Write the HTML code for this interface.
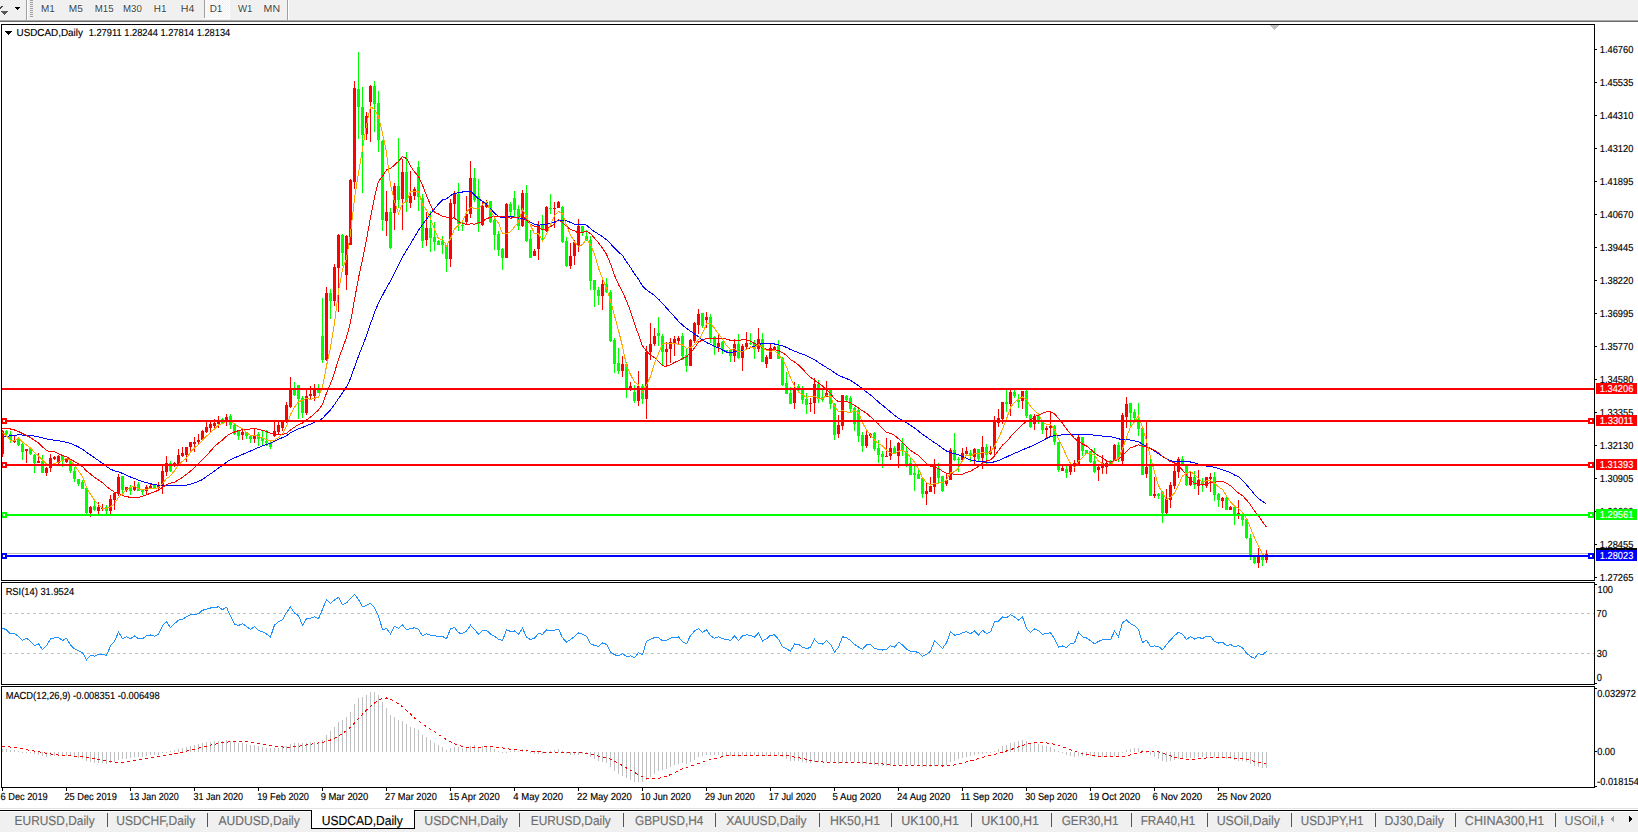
<!DOCTYPE html><html><head><meta charset="utf-8"><style>html,body{margin:0;padding:0;background:#fff;width:1638px;height:832px;overflow:hidden}svg{display:block}text{font-family:"Liberation Sans",sans-serif}</style></head><body><svg width="1638" height="832" viewBox="0 0 1638 832" font-family='"Liberation Sans", sans-serif' shape-rendering="crispEdges" text-rendering="geometricPrecision"><rect x="0" y="0" width="1638" height="20" fill="#f0f0f0"/><rect x="0" y="20" width="1638" height="1" fill="#a8a8a8"/><rect x="0" y="21" width="1638" height="1" fill="#6a6a6a"/><rect x="26" y="0" width="1" height="20" fill="#a0a0a0"/><rect x="27" y="0" width="1" height="20" fill="#ffffff"/><rect x="287" y="0" width="1" height="20" fill="#a0a0a0"/><rect x="288" y="0" width="1" height="20" fill="#ffffff"/><defs><pattern id="chk" x="0" y="0" width="2" height="2" patternUnits="userSpaceOnUse"><rect width="2" height="2" fill="#f0f0f0"/><rect width="1" height="1" fill="#fff"/><rect x="1" y="1" width="1" height="1" fill="#fff"/></pattern></defs><rect x="205" y="0" width="24" height="18" fill="url(#chk)"/><rect x="204" y="0" width="1" height="18" fill="#a0a0a0"/><rect x="204" y="18" width="26" height="1" fill="#ffffff"/><rect x="229" y="0" width="1" height="19" fill="#ffffff"/><rect x="30" y="0" width="3" height="1" fill="#a0a0a0"/><rect x="30" y="2" width="3" height="1" fill="#a0a0a0"/><rect x="30" y="4" width="3" height="1" fill="#a0a0a0"/><rect x="30" y="6" width="3" height="1" fill="#a0a0a0"/><rect x="30" y="8" width="3" height="1" fill="#a0a0a0"/><rect x="30" y="10" width="3" height="1" fill="#a0a0a0"/><rect x="30" y="12" width="3" height="1" fill="#a0a0a0"/><rect x="30" y="14" width="3" height="1" fill="#a0a0a0"/><rect x="30" y="16" width="3" height="1" fill="#a0a0a0"/><path d="M1 11 L8 11 L4.5 15 Z" fill="#555"/><path d="M0 8.5 L2.5 6" stroke="#444" stroke-width="1.5" fill="none"/><path d="M15 7 L20.5 7 L17.75 10 Z" fill="#000"/><text x="40.89" y="12" font-size="10.2" fill="#404040" textLength="13.8" lengthAdjust="spacingAndGlyphs" stroke="#ffffff" stroke-width="1.2" paint-order="stroke" stroke-opacity="0.8">M1</text><text x="68.77" y="12" font-size="10.2" fill="#404040" textLength="14.05" lengthAdjust="spacingAndGlyphs" stroke="#ffffff" stroke-width="1.2" paint-order="stroke" stroke-opacity="0.8">M5</text><text x="94.81" y="12" font-size="10.2" fill="#404040" textLength="18.8" lengthAdjust="spacingAndGlyphs" stroke="#ffffff" stroke-width="1.2" paint-order="stroke" stroke-opacity="0.8">M15</text><text x="123.01" y="12" font-size="10.2" fill="#404040" textLength="18.77" lengthAdjust="spacingAndGlyphs" stroke="#ffffff" stroke-width="1.2" paint-order="stroke" stroke-opacity="0.8">M30</text><text x="153.79" y="12" font-size="10.2" fill="#404040" textLength="12.7" lengthAdjust="spacingAndGlyphs" stroke="#ffffff" stroke-width="1.2" paint-order="stroke" stroke-opacity="0.8">H1</text><text x="180.73" y="12" font-size="10.2" fill="#404040" textLength="13.58" lengthAdjust="spacingAndGlyphs" stroke="#ffffff" stroke-width="1.2" paint-order="stroke" stroke-opacity="0.8">H4</text><text x="209.69" y="12" font-size="10.2" fill="#404040" textLength="12.7" lengthAdjust="spacingAndGlyphs" stroke="#ffffff" stroke-width="1.2" paint-order="stroke" stroke-opacity="0.8">D1</text><text x="237.96" y="12" font-size="10.2" fill="#404040" textLength="14.52" lengthAdjust="spacingAndGlyphs" stroke="#ffffff" stroke-width="1.2" paint-order="stroke" stroke-opacity="0.8">W1</text><text x="263.63" y="12" font-size="10.2" fill="#404040" textLength="16.43" lengthAdjust="spacingAndGlyphs" stroke="#ffffff" stroke-width="1.2" paint-order="stroke" stroke-opacity="0.8">MN</text><defs><clipPath id="cm"><rect x="2" y="25" width="1592" height="555"/></clipPath><clipPath id="cr"><rect x="2" y="583" width="1592" height="101"/></clipPath><clipPath id="cd"><rect x="2" y="687" width="1592" height="100"/></clipPath></defs><g clip-path="url(#cm)"><rect x="2" y="553" width="1592" height="1" fill="#c0c0c0"/><rect x="2" y="430" width="1" height="27" fill="#ff0000"/><rect x="1" y="431" width="3" height="23" fill="#ff0000"/><rect x="6" y="430" width="1" height="5" fill="#00ff00"/><rect x="5" y="431" width="3" height="3" fill="#00ff00"/><rect x="10" y="431" width="1" height="12" fill="#00ff00"/><rect x="9" y="434" width="3" height="6" fill="#00ff00"/><rect x="14" y="436" width="1" height="7" fill="#ff0000"/><rect x="13" y="440" width="3" height="2" fill="#ff0000"/><rect x="18" y="438" width="1" height="8" fill="#00ff00"/><rect x="17" y="439" width="3" height="6" fill="#00ff00"/><rect x="22" y="443" width="1" height="17" fill="#00ff00"/><rect x="21" y="444" width="3" height="8" fill="#00ff00"/><rect x="26" y="449" width="1" height="14" fill="#ff0000"/><rect x="25" y="449" width="3" height="2" fill="#ff0000"/><rect x="30" y="448" width="1" height="7" fill="#00ff00"/><rect x="29" y="448" width="3" height="6" fill="#00ff00"/><rect x="34" y="454" width="1" height="19" fill="#00ff00"/><rect x="33" y="455" width="3" height="8" fill="#00ff00"/><rect x="38" y="453" width="1" height="10" fill="#ff0000"/><rect x="37" y="461" width="3" height="2" fill="#ff0000"/><rect x="42" y="455" width="1" height="18" fill="#00ff00"/><rect x="41" y="461" width="3" height="12" fill="#00ff00"/><rect x="46" y="467" width="1" height="9" fill="#ff0000"/><rect x="45" y="468" width="3" height="5" fill="#ff0000"/><rect x="50" y="454" width="1" height="18" fill="#ff0000"/><rect x="49" y="458" width="3" height="10" fill="#ff0000"/><rect x="54" y="456" width="1" height="4" fill="#ff0000"/><rect x="53" y="457" width="3" height="2" fill="#ff0000"/><rect x="58" y="455" width="1" height="9" fill="#ff0000"/><rect x="57" y="456" width="3" height="7" fill="#ff0000"/><rect x="62" y="455" width="1" height="12" fill="#00ff00"/><rect x="61" y="456" width="3" height="5" fill="#00ff00"/><rect x="66" y="458" width="1" height="5" fill="#ff0000"/><rect x="65" y="458" width="3" height="4" fill="#ff0000"/><rect x="70" y="460" width="1" height="13" fill="#00ff00"/><rect x="69" y="460" width="3" height="11" fill="#00ff00"/><rect x="74" y="467" width="1" height="15" fill="#00ff00"/><rect x="73" y="471" width="3" height="8" fill="#00ff00"/><rect x="78" y="479" width="1" height="7" fill="#00ff00"/><rect x="77" y="479" width="3" height="5" fill="#00ff00"/><rect x="82" y="480" width="1" height="9" fill="#00ff00"/><rect x="81" y="482" width="3" height="7" fill="#00ff00"/><rect x="86" y="488" width="1" height="26" fill="#00ff00"/><rect x="85" y="488" width="3" height="25" fill="#00ff00"/><rect x="90" y="506" width="1" height="11" fill="#ff0000"/><rect x="89" y="507" width="3" height="6" fill="#ff0000"/><rect x="94" y="501" width="1" height="10" fill="#00ff00"/><rect x="93" y="506" width="3" height="4" fill="#00ff00"/><rect x="98" y="502" width="1" height="12" fill="#ff0000"/><rect x="97" y="507" width="3" height="4" fill="#ff0000"/><rect x="102" y="504" width="1" height="7" fill="#ff0000"/><rect x="101" y="508" width="3" height="1" fill="#ff0000"/><rect x="106" y="505" width="1" height="9" fill="#00ff00"/><rect x="105" y="507" width="3" height="4" fill="#00ff00"/><rect x="110" y="495" width="1" height="19" fill="#ff0000"/><rect x="109" y="499" width="3" height="12" fill="#ff0000"/><rect x="114" y="492" width="1" height="18" fill="#ff0000"/><rect x="113" y="493" width="3" height="7" fill="#ff0000"/><rect x="118" y="474" width="1" height="22" fill="#ff0000"/><rect x="117" y="477" width="3" height="17" fill="#ff0000"/><rect x="122" y="476" width="1" height="18" fill="#00ff00"/><rect x="121" y="476" width="3" height="14" fill="#00ff00"/><rect x="126" y="487" width="1" height="5" fill="#ff0000"/><rect x="125" y="487" width="3" height="3" fill="#ff0000"/><rect x="130" y="485" width="1" height="10" fill="#00ff00"/><rect x="129" y="487" width="3" height="4" fill="#00ff00"/><rect x="134" y="481" width="1" height="10" fill="#ff0000"/><rect x="133" y="486" width="3" height="4" fill="#ff0000"/><rect x="138" y="482" width="1" height="9" fill="#00ff00"/><rect x="137" y="484" width="3" height="7" fill="#00ff00"/><rect x="142" y="489" width="1" height="6" fill="#00ff00"/><rect x="141" y="490" width="3" height="2" fill="#00ff00"/><rect x="146" y="485" width="1" height="9" fill="#ff0000"/><rect x="145" y="487" width="3" height="4" fill="#ff0000"/><rect x="150" y="484" width="1" height="4" fill="#ff0000"/><rect x="149" y="486" width="3" height="2" fill="#ff0000"/><rect x="154" y="484" width="1" height="5" fill="#00ff00"/><rect x="153" y="485" width="3" height="3" fill="#00ff00"/><rect x="158" y="482" width="1" height="9" fill="#ff0000"/><rect x="157" y="485" width="3" height="3" fill="#ff0000"/><rect x="162" y="466" width="1" height="28" fill="#ff0000"/><rect x="161" y="471" width="3" height="15" fill="#ff0000"/><rect x="166" y="456" width="1" height="20" fill="#ff0000"/><rect x="165" y="463" width="3" height="9" fill="#ff0000"/><rect x="170" y="461" width="1" height="11" fill="#00ff00"/><rect x="169" y="463" width="3" height="8" fill="#00ff00"/><rect x="174" y="462" width="1" height="5" fill="#ff0000"/><rect x="173" y="463" width="3" height="3" fill="#ff0000"/><rect x="178" y="449" width="1" height="16" fill="#ff0000"/><rect x="177" y="455" width="3" height="9" fill="#ff0000"/><rect x="182" y="447" width="1" height="10" fill="#ff0000"/><rect x="181" y="453" width="3" height="3" fill="#ff0000"/><rect x="186" y="447" width="1" height="15" fill="#ff0000"/><rect x="185" y="447" width="3" height="8" fill="#ff0000"/><rect x="190" y="442" width="1" height="9" fill="#ff0000"/><rect x="189" y="442" width="3" height="5" fill="#ff0000"/><rect x="194" y="437" width="1" height="15" fill="#ff0000"/><rect x="193" y="442" width="3" height="2" fill="#ff0000"/><rect x="198" y="434" width="1" height="11" fill="#ff0000"/><rect x="197" y="440" width="3" height="2" fill="#ff0000"/><rect x="202" y="430" width="1" height="11" fill="#ff0000"/><rect x="201" y="431" width="3" height="9" fill="#ff0000"/><rect x="206" y="422" width="1" height="11" fill="#ff0000"/><rect x="205" y="427" width="3" height="5" fill="#ff0000"/><rect x="210" y="422" width="1" height="10" fill="#ff0000"/><rect x="209" y="424" width="3" height="4" fill="#ff0000"/><rect x="214" y="419" width="1" height="11" fill="#ff0000"/><rect x="213" y="423" width="3" height="3" fill="#ff0000"/><rect x="218" y="416" width="1" height="12" fill="#ff0000"/><rect x="217" y="420" width="3" height="4" fill="#ff0000"/><rect x="222" y="418" width="1" height="5" fill="#00ff00"/><rect x="221" y="419" width="3" height="4" fill="#00ff00"/><rect x="226" y="414" width="1" height="12" fill="#ff0000"/><rect x="225" y="417" width="3" height="5" fill="#ff0000"/><rect x="230" y="414" width="1" height="15" fill="#00ff00"/><rect x="229" y="416" width="3" height="9" fill="#00ff00"/><rect x="234" y="424" width="1" height="11" fill="#00ff00"/><rect x="233" y="425" width="3" height="9" fill="#00ff00"/><rect x="238" y="430" width="1" height="10" fill="#00ff00"/><rect x="237" y="431" width="3" height="5" fill="#00ff00"/><rect x="242" y="429" width="1" height="11" fill="#ff0000"/><rect x="241" y="432" width="3" height="3" fill="#ff0000"/><rect x="246" y="432" width="1" height="7" fill="#00ff00"/><rect x="245" y="432" width="3" height="4" fill="#00ff00"/><rect x="250" y="435" width="1" height="8" fill="#00ff00"/><rect x="249" y="436" width="3" height="3" fill="#00ff00"/><rect x="254" y="429" width="1" height="14" fill="#ff0000"/><rect x="253" y="435" width="3" height="4" fill="#ff0000"/><rect x="258" y="432" width="1" height="14" fill="#00ff00"/><rect x="257" y="434" width="3" height="5" fill="#00ff00"/><rect x="262" y="431" width="1" height="15" fill="#00ff00"/><rect x="261" y="438" width="3" height="3" fill="#00ff00"/><rect x="266" y="430" width="1" height="16" fill="#00ff00"/><rect x="265" y="441" width="3" height="2" fill="#00ff00"/><rect x="270" y="442" width="1" height="7" fill="#00ff00"/><rect x="269" y="443" width="3" height="4" fill="#00ff00"/><rect x="274" y="422" width="1" height="15" fill="#ff0000"/><rect x="273" y="431" width="3" height="5" fill="#ff0000"/><rect x="278" y="422" width="1" height="12" fill="#ff0000"/><rect x="277" y="425" width="3" height="7" fill="#ff0000"/><rect x="282" y="422" width="1" height="9" fill="#ff0000"/><rect x="281" y="422" width="3" height="6" fill="#ff0000"/><rect x="286" y="402" width="1" height="21" fill="#ff0000"/><rect x="285" y="405" width="3" height="17" fill="#ff0000"/><rect x="290" y="377" width="1" height="31" fill="#ff0000"/><rect x="289" y="388" width="3" height="19" fill="#ff0000"/><rect x="294" y="382" width="1" height="14" fill="#00ff00"/><rect x="293" y="390" width="3" height="5" fill="#00ff00"/><rect x="298" y="385" width="1" height="34" fill="#00ff00"/><rect x="297" y="385" width="3" height="14" fill="#00ff00"/><rect x="302" y="396" width="1" height="22" fill="#00ff00"/><rect x="301" y="398" width="3" height="15" fill="#00ff00"/><rect x="306" y="390" width="1" height="25" fill="#ff0000"/><rect x="305" y="396" width="3" height="17" fill="#ff0000"/><rect x="310" y="386" width="1" height="13" fill="#ff0000"/><rect x="309" y="394" width="3" height="2" fill="#ff0000"/><rect x="314" y="384" width="1" height="17" fill="#ff0000"/><rect x="313" y="390" width="3" height="6" fill="#ff0000"/><rect x="318" y="384" width="1" height="9" fill="#00ff00"/><rect x="317" y="390" width="3" height="3" fill="#00ff00"/><rect x="322" y="298" width="1" height="65" fill="#00ff00"/><rect x="321" y="336" width="3" height="24" fill="#00ff00"/><rect x="326" y="287" width="1" height="74" fill="#ff0000"/><rect x="325" y="293" width="3" height="67" fill="#ff0000"/><rect x="330" y="289" width="1" height="30" fill="#00ff00"/><rect x="329" y="293" width="3" height="8" fill="#00ff00"/><rect x="334" y="264" width="1" height="42" fill="#ff0000"/><rect x="333" y="267" width="3" height="34" fill="#ff0000"/><rect x="338" y="234" width="1" height="78" fill="#ff0000"/><rect x="337" y="235" width="3" height="33" fill="#ff0000"/><rect x="342" y="234" width="1" height="32" fill="#00ff00"/><rect x="341" y="235" width="3" height="18" fill="#00ff00"/><rect x="346" y="235" width="1" height="55" fill="#ff0000"/><rect x="345" y="236" width="3" height="39" fill="#ff0000"/><rect x="350" y="179" width="1" height="66" fill="#ff0000"/><rect x="349" y="180" width="3" height="65" fill="#ff0000"/><rect x="354" y="81" width="1" height="108" fill="#ff0000"/><rect x="353" y="88" width="3" height="94" fill="#ff0000"/><rect x="358" y="52" width="1" height="87" fill="#00ff00"/><rect x="357" y="89" width="3" height="18" fill="#00ff00"/><rect x="362" y="87" width="1" height="106" fill="#00ff00"/><rect x="361" y="107" width="3" height="28" fill="#00ff00"/><rect x="366" y="112" width="1" height="28" fill="#ff0000"/><rect x="365" y="116" width="3" height="18" fill="#ff0000"/><rect x="370" y="85" width="1" height="57" fill="#ff0000"/><rect x="369" y="86" width="3" height="16" fill="#ff0000"/><rect x="374" y="81" width="1" height="51" fill="#00ff00"/><rect x="373" y="86" width="3" height="18" fill="#00ff00"/><rect x="378" y="91" width="1" height="61" fill="#00ff00"/><rect x="377" y="103" width="3" height="37" fill="#00ff00"/><rect x="382" y="140" width="1" height="91" fill="#00ff00"/><rect x="381" y="141" width="3" height="79" fill="#00ff00"/><rect x="386" y="191" width="1" height="45" fill="#ff0000"/><rect x="385" y="212" width="3" height="9" fill="#ff0000"/><rect x="390" y="208" width="1" height="41" fill="#00ff00"/><rect x="389" y="212" width="3" height="36" fill="#00ff00"/><rect x="394" y="183" width="1" height="47" fill="#ff0000"/><rect x="393" y="186" width="3" height="27" fill="#ff0000"/><rect x="398" y="138" width="1" height="70" fill="#00ff00"/><rect x="397" y="186" width="3" height="14" fill="#00ff00"/><rect x="402" y="159" width="1" height="71" fill="#ff0000"/><rect x="401" y="172" width="3" height="27" fill="#ff0000"/><rect x="406" y="152" width="1" height="60" fill="#00ff00"/><rect x="405" y="172" width="3" height="30" fill="#00ff00"/><rect x="410" y="171" width="1" height="37" fill="#ff0000"/><rect x="409" y="196" width="3" height="7" fill="#ff0000"/><rect x="414" y="187" width="1" height="13" fill="#ff0000"/><rect x="413" y="189" width="3" height="7" fill="#ff0000"/><rect x="418" y="161" width="1" height="50" fill="#00ff00"/><rect x="417" y="167" width="3" height="30" fill="#00ff00"/><rect x="422" y="194" width="1" height="54" fill="#00ff00"/><rect x="421" y="198" width="3" height="43" fill="#00ff00"/><rect x="426" y="212" width="1" height="34" fill="#ff0000"/><rect x="425" y="228" width="3" height="12" fill="#ff0000"/><rect x="430" y="211" width="1" height="41" fill="#00ff00"/><rect x="429" y="228" width="3" height="10" fill="#00ff00"/><rect x="434" y="222" width="1" height="29" fill="#00ff00"/><rect x="433" y="237" width="3" height="5" fill="#00ff00"/><rect x="438" y="240" width="1" height="5" fill="#00ff00"/><rect x="437" y="241" width="3" height="4" fill="#00ff00"/><rect x="442" y="236" width="1" height="18" fill="#00ff00"/><rect x="441" y="241" width="3" height="4" fill="#00ff00"/><rect x="446" y="245" width="1" height="27" fill="#00ff00"/><rect x="445" y="245" width="3" height="14" fill="#00ff00"/><rect x="450" y="199" width="1" height="68" fill="#ff0000"/><rect x="449" y="203" width="3" height="56" fill="#ff0000"/><rect x="454" y="191" width="1" height="27" fill="#ff0000"/><rect x="453" y="194" width="3" height="10" fill="#ff0000"/><rect x="458" y="183" width="1" height="48" fill="#00ff00"/><rect x="457" y="194" width="3" height="30" fill="#00ff00"/><rect x="462" y="222" width="1" height="9" fill="#00ff00"/><rect x="461" y="225" width="3" height="1" fill="#00ff00"/><rect x="466" y="196" width="1" height="29" fill="#ff0000"/><rect x="465" y="214" width="3" height="8" fill="#ff0000"/><rect x="470" y="161" width="1" height="57" fill="#ff0000"/><rect x="469" y="178" width="3" height="36" fill="#ff0000"/><rect x="474" y="168" width="1" height="34" fill="#00ff00"/><rect x="473" y="178" width="3" height="22" fill="#00ff00"/><rect x="478" y="179" width="1" height="53" fill="#00ff00"/><rect x="477" y="196" width="3" height="28" fill="#00ff00"/><rect x="482" y="202" width="1" height="24" fill="#ff0000"/><rect x="481" y="206" width="3" height="19" fill="#ff0000"/><rect x="486" y="200" width="1" height="8" fill="#ff0000"/><rect x="485" y="202" width="3" height="5" fill="#ff0000"/><rect x="490" y="201" width="1" height="22" fill="#00ff00"/><rect x="489" y="201" width="3" height="21" fill="#00ff00"/><rect x="494" y="218" width="1" height="32" fill="#00ff00"/><rect x="493" y="220" width="3" height="15" fill="#00ff00"/><rect x="498" y="231" width="1" height="25" fill="#00ff00"/><rect x="497" y="234" width="3" height="16" fill="#00ff00"/><rect x="502" y="248" width="1" height="22" fill="#00ff00"/><rect x="501" y="249" width="3" height="9" fill="#00ff00"/><rect x="506" y="203" width="1" height="55" fill="#ff0000"/><rect x="505" y="204" width="3" height="54" fill="#ff0000"/><rect x="510" y="202" width="1" height="14" fill="#00ff00"/><rect x="509" y="204" width="3" height="8" fill="#00ff00"/><rect x="514" y="191" width="1" height="26" fill="#00ff00"/><rect x="513" y="198" width="3" height="12" fill="#00ff00"/><rect x="518" y="205" width="1" height="25" fill="#00ff00"/><rect x="517" y="209" width="3" height="17" fill="#00ff00"/><rect x="522" y="190" width="1" height="37" fill="#ff0000"/><rect x="521" y="193" width="3" height="33" fill="#ff0000"/><rect x="526" y="185" width="1" height="57" fill="#00ff00"/><rect x="525" y="193" width="3" height="48" fill="#00ff00"/><rect x="530" y="230" width="1" height="28" fill="#00ff00"/><rect x="529" y="239" width="3" height="19" fill="#00ff00"/><rect x="534" y="249" width="1" height="7" fill="#ff0000"/><rect x="533" y="251" width="3" height="5" fill="#ff0000"/><rect x="538" y="221" width="1" height="39" fill="#ff0000"/><rect x="537" y="225" width="3" height="24" fill="#ff0000"/><rect x="542" y="215" width="1" height="25" fill="#00ff00"/><rect x="541" y="225" width="3" height="5" fill="#00ff00"/><rect x="546" y="206" width="1" height="26" fill="#ff0000"/><rect x="545" y="207" width="3" height="24" fill="#ff0000"/><rect x="550" y="194" width="1" height="20" fill="#00ff00"/><rect x="549" y="208" width="3" height="1" fill="#00ff00"/><rect x="554" y="202" width="1" height="26" fill="#ff0000"/><rect x="553" y="208" width="3" height="1" fill="#ff0000"/><rect x="558" y="201" width="1" height="7" fill="#ff0000"/><rect x="557" y="202" width="3" height="6" fill="#ff0000"/><rect x="562" y="206" width="1" height="37" fill="#00ff00"/><rect x="561" y="207" width="3" height="35" fill="#00ff00"/><rect x="566" y="237" width="1" height="30" fill="#00ff00"/><rect x="565" y="241" width="3" height="25" fill="#00ff00"/><rect x="570" y="243" width="1" height="26" fill="#ff0000"/><rect x="569" y="256" width="3" height="10" fill="#ff0000"/><rect x="574" y="240" width="1" height="25" fill="#ff0000"/><rect x="573" y="242" width="3" height="14" fill="#ff0000"/><rect x="578" y="219" width="1" height="33" fill="#ff0000"/><rect x="577" y="226" width="3" height="20" fill="#ff0000"/><rect x="582" y="226" width="1" height="10" fill="#00ff00"/><rect x="581" y="226" width="3" height="6" fill="#00ff00"/><rect x="586" y="230" width="1" height="11" fill="#00ff00"/><rect x="585" y="236" width="3" height="5" fill="#00ff00"/><rect x="590" y="236" width="1" height="54" fill="#00ff00"/><rect x="589" y="240" width="3" height="41" fill="#00ff00"/><rect x="594" y="280" width="1" height="27" fill="#00ff00"/><rect x="593" y="280" width="3" height="10" fill="#00ff00"/><rect x="598" y="287" width="1" height="18" fill="#00ff00"/><rect x="597" y="290" width="3" height="6" fill="#00ff00"/><rect x="602" y="280" width="1" height="30" fill="#ff0000"/><rect x="601" y="284" width="3" height="12" fill="#ff0000"/><rect x="606" y="278" width="1" height="15" fill="#00ff00"/><rect x="605" y="284" width="3" height="8" fill="#00ff00"/><rect x="610" y="290" width="1" height="52" fill="#00ff00"/><rect x="609" y="292" width="3" height="49" fill="#00ff00"/><rect x="614" y="338" width="1" height="35" fill="#00ff00"/><rect x="613" y="340" width="3" height="24" fill="#00ff00"/><rect x="618" y="348" width="1" height="26" fill="#00ff00"/><rect x="617" y="363" width="3" height="8" fill="#00ff00"/><rect x="622" y="356" width="1" height="21" fill="#ff0000"/><rect x="621" y="364" width="3" height="7" fill="#ff0000"/><rect x="626" y="362" width="1" height="36" fill="#00ff00"/><rect x="625" y="364" width="3" height="24" fill="#00ff00"/><rect x="630" y="382" width="1" height="9" fill="#ff0000"/><rect x="629" y="386" width="3" height="4" fill="#ff0000"/><rect x="634" y="385" width="1" height="18" fill="#00ff00"/><rect x="633" y="392" width="3" height="9" fill="#00ff00"/><rect x="638" y="371" width="1" height="35" fill="#ff0000"/><rect x="637" y="386" width="3" height="15" fill="#ff0000"/><rect x="642" y="384" width="1" height="20" fill="#00ff00"/><rect x="641" y="386" width="3" height="13" fill="#00ff00"/><rect x="646" y="346" width="1" height="73" fill="#ff0000"/><rect x="645" y="352" width="3" height="47" fill="#ff0000"/><rect x="650" y="323" width="1" height="37" fill="#ff0000"/><rect x="649" y="344" width="3" height="8" fill="#ff0000"/><rect x="654" y="328" width="1" height="18" fill="#ff0000"/><rect x="653" y="336" width="3" height="8" fill="#ff0000"/><rect x="658" y="317" width="1" height="29" fill="#00ff00"/><rect x="657" y="333" width="3" height="3" fill="#00ff00"/><rect x="662" y="334" width="1" height="32" fill="#00ff00"/><rect x="661" y="336" width="3" height="16" fill="#00ff00"/><rect x="666" y="342" width="1" height="24" fill="#ff0000"/><rect x="665" y="349" width="3" height="3" fill="#ff0000"/><rect x="670" y="338" width="1" height="25" fill="#ff0000"/><rect x="669" y="342" width="3" height="7" fill="#ff0000"/><rect x="674" y="336" width="1" height="20" fill="#ff0000"/><rect x="673" y="339" width="3" height="4" fill="#ff0000"/><rect x="678" y="336" width="1" height="8" fill="#ff0000"/><rect x="677" y="338" width="3" height="3" fill="#ff0000"/><rect x="682" y="333" width="1" height="27" fill="#00ff00"/><rect x="681" y="336" width="3" height="20" fill="#00ff00"/><rect x="686" y="348" width="1" height="24" fill="#00ff00"/><rect x="685" y="355" width="3" height="11" fill="#00ff00"/><rect x="690" y="339" width="1" height="27" fill="#ff0000"/><rect x="689" y="340" width="3" height="26" fill="#ff0000"/><rect x="694" y="322" width="1" height="21" fill="#ff0000"/><rect x="693" y="323" width="3" height="18" fill="#ff0000"/><rect x="698" y="309" width="1" height="25" fill="#ff0000"/><rect x="697" y="314" width="3" height="11" fill="#ff0000"/><rect x="702" y="313" width="1" height="15" fill="#00ff00"/><rect x="701" y="313" width="3" height="13" fill="#00ff00"/><rect x="706" y="312" width="1" height="16" fill="#ff0000"/><rect x="705" y="317" width="3" height="3" fill="#ff0000"/><rect x="710" y="314" width="1" height="29" fill="#00ff00"/><rect x="709" y="317" width="3" height="21" fill="#00ff00"/><rect x="714" y="336" width="1" height="19" fill="#00ff00"/><rect x="713" y="337" width="3" height="10" fill="#00ff00"/><rect x="718" y="334" width="1" height="18" fill="#ff0000"/><rect x="717" y="343" width="3" height="4" fill="#ff0000"/><rect x="722" y="341" width="1" height="13" fill="#00ff00"/><rect x="721" y="342" width="3" height="8" fill="#00ff00"/><rect x="726" y="350" width="1" height="2" fill="#00ff00"/><rect x="725" y="350" width="3" height="2" fill="#00ff00"/><rect x="730" y="349" width="1" height="13" fill="#00ff00"/><rect x="729" y="350" width="3" height="6" fill="#00ff00"/><rect x="734" y="339" width="1" height="23" fill="#ff0000"/><rect x="733" y="344" width="3" height="12" fill="#ff0000"/><rect x="738" y="334" width="1" height="25" fill="#00ff00"/><rect x="737" y="344" width="3" height="14" fill="#00ff00"/><rect x="742" y="344" width="1" height="27" fill="#ff0000"/><rect x="741" y="346" width="3" height="12" fill="#ff0000"/><rect x="746" y="332" width="1" height="18" fill="#ff0000"/><rect x="745" y="343" width="3" height="4" fill="#ff0000"/><rect x="750" y="333" width="1" height="12" fill="#00ff00"/><rect x="749" y="343" width="3" height="1" fill="#00ff00"/><rect x="754" y="340" width="1" height="19" fill="#00ff00"/><rect x="753" y="344" width="3" height="5" fill="#00ff00"/><rect x="758" y="328" width="1" height="24" fill="#ff0000"/><rect x="757" y="339" width="3" height="10" fill="#ff0000"/><rect x="762" y="333" width="1" height="29" fill="#00ff00"/><rect x="761" y="339" width="3" height="23" fill="#00ff00"/><rect x="766" y="355" width="1" height="13" fill="#ff0000"/><rect x="765" y="357" width="3" height="7" fill="#ff0000"/><rect x="770" y="344" width="1" height="15" fill="#ff0000"/><rect x="769" y="348" width="3" height="11" fill="#ff0000"/><rect x="774" y="346" width="1" height="4" fill="#ff0000"/><rect x="773" y="347" width="3" height="2" fill="#ff0000"/><rect x="778" y="340" width="1" height="19" fill="#00ff00"/><rect x="777" y="346" width="3" height="13" fill="#00ff00"/><rect x="782" y="357" width="1" height="29" fill="#00ff00"/><rect x="781" y="358" width="3" height="27" fill="#00ff00"/><rect x="786" y="372" width="1" height="22" fill="#00ff00"/><rect x="785" y="383" width="3" height="11" fill="#00ff00"/><rect x="790" y="387" width="1" height="17" fill="#00ff00"/><rect x="789" y="393" width="3" height="11" fill="#00ff00"/><rect x="794" y="382" width="1" height="27" fill="#ff0000"/><rect x="793" y="388" width="3" height="15" fill="#ff0000"/><rect x="798" y="384" width="1" height="7" fill="#00ff00"/><rect x="797" y="386" width="3" height="3" fill="#00ff00"/><rect x="802" y="386" width="1" height="18" fill="#00ff00"/><rect x="801" y="389" width="3" height="11" fill="#00ff00"/><rect x="806" y="393" width="1" height="21" fill="#00ff00"/><rect x="805" y="399" width="3" height="6" fill="#00ff00"/><rect x="810" y="398" width="1" height="14" fill="#ff0000"/><rect x="809" y="403" width="3" height="1" fill="#ff0000"/><rect x="814" y="378" width="1" height="36" fill="#ff0000"/><rect x="813" y="384" width="3" height="19" fill="#ff0000"/><rect x="818" y="380" width="1" height="23" fill="#00ff00"/><rect x="817" y="384" width="3" height="15" fill="#00ff00"/><rect x="822" y="390" width="1" height="12" fill="#00ff00"/><rect x="821" y="397" width="3" height="3" fill="#00ff00"/><rect x="826" y="381" width="1" height="16" fill="#ff0000"/><rect x="825" y="393" width="3" height="4" fill="#ff0000"/><rect x="830" y="390" width="1" height="19" fill="#00ff00"/><rect x="829" y="390" width="3" height="14" fill="#00ff00"/><rect x="834" y="403" width="1" height="37" fill="#00ff00"/><rect x="833" y="404" width="3" height="31" fill="#00ff00"/><rect x="838" y="415" width="1" height="23" fill="#ff0000"/><rect x="837" y="425" width="3" height="9" fill="#ff0000"/><rect x="842" y="395" width="1" height="35" fill="#ff0000"/><rect x="841" y="395" width="3" height="31" fill="#ff0000"/><rect x="846" y="395" width="1" height="6" fill="#00ff00"/><rect x="845" y="396" width="3" height="4" fill="#00ff00"/><rect x="850" y="396" width="1" height="17" fill="#00ff00"/><rect x="849" y="398" width="3" height="11" fill="#00ff00"/><rect x="854" y="407" width="1" height="24" fill="#00ff00"/><rect x="853" y="408" width="3" height="16" fill="#00ff00"/><rect x="858" y="409" width="1" height="33" fill="#00ff00"/><rect x="857" y="410" width="3" height="26" fill="#00ff00"/><rect x="862" y="432" width="1" height="20" fill="#00ff00"/><rect x="861" y="435" width="3" height="11" fill="#00ff00"/><rect x="866" y="430" width="1" height="18" fill="#ff0000"/><rect x="865" y="435" width="3" height="11" fill="#ff0000"/><rect x="870" y="433" width="1" height="5" fill="#ff0000"/><rect x="869" y="434" width="3" height="2" fill="#ff0000"/><rect x="874" y="432" width="1" height="19" fill="#00ff00"/><rect x="873" y="433" width="3" height="16" fill="#00ff00"/><rect x="878" y="440" width="1" height="23" fill="#00ff00"/><rect x="877" y="448" width="3" height="7" fill="#00ff00"/><rect x="882" y="451" width="1" height="17" fill="#00ff00"/><rect x="881" y="454" width="3" height="3" fill="#00ff00"/><rect x="886" y="438" width="1" height="19" fill="#ff0000"/><rect x="885" y="456" width="3" height="1" fill="#ff0000"/><rect x="890" y="440" width="1" height="20" fill="#ff0000"/><rect x="889" y="448" width="3" height="8" fill="#ff0000"/><rect x="894" y="446" width="1" height="8" fill="#00ff00"/><rect x="893" y="448" width="3" height="5" fill="#00ff00"/><rect x="898" y="442" width="1" height="26" fill="#ff0000"/><rect x="897" y="443" width="3" height="13" fill="#ff0000"/><rect x="902" y="438" width="1" height="18" fill="#00ff00"/><rect x="901" y="443" width="3" height="8" fill="#00ff00"/><rect x="906" y="447" width="1" height="20" fill="#00ff00"/><rect x="905" y="451" width="3" height="15" fill="#00ff00"/><rect x="910" y="458" width="1" height="17" fill="#00ff00"/><rect x="909" y="463" width="3" height="12" fill="#00ff00"/><rect x="914" y="466" width="1" height="25" fill="#00ff00"/><rect x="913" y="473" width="3" height="2" fill="#00ff00"/><rect x="918" y="470" width="1" height="9" fill="#00ff00"/><rect x="917" y="474" width="3" height="5" fill="#00ff00"/><rect x="922" y="478" width="1" height="20" fill="#00ff00"/><rect x="921" y="478" width="3" height="16" fill="#00ff00"/><rect x="926" y="483" width="1" height="22" fill="#ff0000"/><rect x="925" y="491" width="3" height="3" fill="#ff0000"/><rect x="930" y="477" width="1" height="15" fill="#ff0000"/><rect x="929" y="486" width="3" height="6" fill="#ff0000"/><rect x="934" y="459" width="1" height="35" fill="#ff0000"/><rect x="933" y="466" width="3" height="21" fill="#ff0000"/><rect x="938" y="463" width="1" height="20" fill="#00ff00"/><rect x="937" y="468" width="3" height="10" fill="#00ff00"/><rect x="942" y="476" width="1" height="16" fill="#00ff00"/><rect x="941" y="476" width="3" height="15" fill="#00ff00"/><rect x="946" y="474" width="1" height="12" fill="#ff0000"/><rect x="945" y="480" width="3" height="4" fill="#ff0000"/><rect x="950" y="448" width="1" height="32" fill="#ff0000"/><rect x="949" y="450" width="3" height="30" fill="#ff0000"/><rect x="954" y="433" width="1" height="28" fill="#00ff00"/><rect x="953" y="450" width="3" height="10" fill="#00ff00"/><rect x="958" y="457" width="1" height="15" fill="#00ff00"/><rect x="957" y="459" width="3" height="1" fill="#00ff00"/><rect x="962" y="448" width="1" height="14" fill="#ff0000"/><rect x="961" y="453" width="3" height="7" fill="#ff0000"/><rect x="966" y="447" width="1" height="8" fill="#ff0000"/><rect x="965" y="451" width="3" height="3" fill="#ff0000"/><rect x="970" y="450" width="1" height="12" fill="#00ff00"/><rect x="969" y="453" width="3" height="3" fill="#00ff00"/><rect x="974" y="448" width="1" height="18" fill="#ff0000"/><rect x="973" y="449" width="3" height="8" fill="#ff0000"/><rect x="978" y="449" width="1" height="13" fill="#00ff00"/><rect x="977" y="449" width="3" height="10" fill="#00ff00"/><rect x="982" y="436" width="1" height="33" fill="#ff0000"/><rect x="981" y="447" width="3" height="11" fill="#ff0000"/><rect x="986" y="444" width="1" height="22" fill="#00ff00"/><rect x="985" y="447" width="3" height="8" fill="#00ff00"/><rect x="990" y="446" width="1" height="9" fill="#ff0000"/><rect x="989" y="451" width="3" height="3" fill="#ff0000"/><rect x="994" y="416" width="1" height="41" fill="#ff0000"/><rect x="993" y="421" width="3" height="28" fill="#ff0000"/><rect x="998" y="409" width="1" height="18" fill="#ff0000"/><rect x="997" y="418" width="3" height="5" fill="#ff0000"/><rect x="1002" y="402" width="1" height="22" fill="#ff0000"/><rect x="1001" y="402" width="3" height="17" fill="#ff0000"/><rect x="1006" y="389" width="1" height="23" fill="#00ff00"/><rect x="1005" y="402" width="3" height="2" fill="#00ff00"/><rect x="1010" y="389" width="1" height="27" fill="#ff0000"/><rect x="1009" y="392" width="3" height="12" fill="#ff0000"/><rect x="1014" y="390" width="1" height="8" fill="#00ff00"/><rect x="1013" y="392" width="3" height="4" fill="#00ff00"/><rect x="1018" y="394" width="1" height="14" fill="#00ff00"/><rect x="1017" y="400" width="3" height="2" fill="#00ff00"/><rect x="1022" y="391" width="1" height="18" fill="#ff0000"/><rect x="1021" y="391" width="3" height="10" fill="#ff0000"/><rect x="1026" y="390" width="1" height="28" fill="#00ff00"/><rect x="1025" y="391" width="3" height="25" fill="#00ff00"/><rect x="1030" y="414" width="1" height="14" fill="#00ff00"/><rect x="1029" y="415" width="3" height="12" fill="#00ff00"/><rect x="1034" y="414" width="1" height="16" fill="#ff0000"/><rect x="1033" y="416" width="3" height="8" fill="#ff0000"/><rect x="1038" y="416" width="1" height="8" fill="#00ff00"/><rect x="1037" y="416" width="3" height="4" fill="#00ff00"/><rect x="1042" y="422" width="1" height="12" fill="#00ff00"/><rect x="1041" y="422" width="3" height="8" fill="#00ff00"/><rect x="1046" y="426" width="1" height="12" fill="#ff0000"/><rect x="1045" y="428" width="3" height="2" fill="#ff0000"/><rect x="1050" y="411" width="1" height="25" fill="#ff0000"/><rect x="1049" y="426" width="3" height="2" fill="#ff0000"/><rect x="1054" y="425" width="1" height="20" fill="#00ff00"/><rect x="1053" y="426" width="3" height="16" fill="#00ff00"/><rect x="1058" y="442" width="1" height="30" fill="#00ff00"/><rect x="1057" y="442" width="3" height="28" fill="#00ff00"/><rect x="1062" y="466" width="1" height="5" fill="#ff0000"/><rect x="1061" y="468" width="3" height="3" fill="#ff0000"/><rect x="1066" y="466" width="1" height="12" fill="#00ff00"/><rect x="1065" y="469" width="3" height="4" fill="#00ff00"/><rect x="1070" y="464" width="1" height="11" fill="#ff0000"/><rect x="1069" y="464" width="3" height="8" fill="#ff0000"/><rect x="1074" y="460" width="1" height="12" fill="#ff0000"/><rect x="1073" y="463" width="3" height="2" fill="#ff0000"/><rect x="1078" y="434" width="1" height="30" fill="#ff0000"/><rect x="1077" y="437" width="3" height="27" fill="#ff0000"/><rect x="1082" y="437" width="1" height="19" fill="#00ff00"/><rect x="1081" y="437" width="3" height="14" fill="#00ff00"/><rect x="1086" y="450" width="1" height="4" fill="#00ff00"/><rect x="1085" y="450" width="3" height="4" fill="#00ff00"/><rect x="1090" y="451" width="1" height="12" fill="#00ff00"/><rect x="1089" y="451" width="3" height="11" fill="#00ff00"/><rect x="1094" y="448" width="1" height="25" fill="#00ff00"/><rect x="1093" y="461" width="3" height="11" fill="#00ff00"/><rect x="1098" y="465" width="1" height="16" fill="#ff0000"/><rect x="1097" y="467" width="3" height="3" fill="#ff0000"/><rect x="1102" y="455" width="1" height="19" fill="#ff0000"/><rect x="1101" y="463" width="3" height="5" fill="#ff0000"/><rect x="1106" y="461" width="1" height="13" fill="#ff0000"/><rect x="1105" y="463" width="3" height="4" fill="#ff0000"/><rect x="1110" y="460" width="1" height="4" fill="#00ff00"/><rect x="1109" y="462" width="3" height="2" fill="#00ff00"/><rect x="1114" y="444" width="1" height="17" fill="#ff0000"/><rect x="1113" y="445" width="3" height="15" fill="#ff0000"/><rect x="1118" y="442" width="1" height="20" fill="#00ff00"/><rect x="1117" y="445" width="3" height="13" fill="#00ff00"/><rect x="1122" y="413" width="1" height="51" fill="#ff0000"/><rect x="1121" y="415" width="3" height="46" fill="#ff0000"/><rect x="1126" y="397" width="1" height="31" fill="#ff0000"/><rect x="1125" y="404" width="3" height="13" fill="#ff0000"/><rect x="1130" y="403" width="1" height="24" fill="#00ff00"/><rect x="1129" y="403" width="3" height="10" fill="#00ff00"/><rect x="1134" y="409" width="1" height="11" fill="#00ff00"/><rect x="1133" y="412" width="3" height="6" fill="#00ff00"/><rect x="1138" y="403" width="1" height="33" fill="#00ff00"/><rect x="1137" y="419" width="3" height="10" fill="#00ff00"/><rect x="1142" y="428" width="1" height="47" fill="#00ff00"/><rect x="1141" y="428" width="3" height="47" fill="#00ff00"/><rect x="1146" y="422" width="1" height="56" fill="#ff0000"/><rect x="1145" y="467" width="3" height="7" fill="#ff0000"/><rect x="1150" y="459" width="1" height="37" fill="#00ff00"/><rect x="1149" y="466" width="3" height="30" fill="#00ff00"/><rect x="1154" y="477" width="1" height="21" fill="#ff0000"/><rect x="1153" y="494" width="3" height="2" fill="#ff0000"/><rect x="1158" y="493" width="1" height="6" fill="#00ff00"/><rect x="1157" y="494" width="3" height="2" fill="#00ff00"/><rect x="1162" y="491" width="1" height="32" fill="#00ff00"/><rect x="1161" y="492" width="3" height="21" fill="#00ff00"/><rect x="1166" y="489" width="1" height="25" fill="#ff0000"/><rect x="1165" y="498" width="3" height="15" fill="#ff0000"/><rect x="1170" y="482" width="1" height="26" fill="#ff0000"/><rect x="1169" y="485" width="3" height="15" fill="#ff0000"/><rect x="1174" y="463" width="1" height="26" fill="#ff0000"/><rect x="1173" y="471" width="3" height="15" fill="#ff0000"/><rect x="1178" y="457" width="1" height="21" fill="#ff0000"/><rect x="1177" y="459" width="3" height="13" fill="#ff0000"/><rect x="1182" y="456" width="1" height="10" fill="#00ff00"/><rect x="1181" y="459" width="3" height="7" fill="#00ff00"/><rect x="1186" y="466" width="1" height="20" fill="#00ff00"/><rect x="1185" y="466" width="3" height="19" fill="#00ff00"/><rect x="1190" y="472" width="1" height="14" fill="#ff0000"/><rect x="1189" y="477" width="3" height="8" fill="#ff0000"/><rect x="1194" y="471" width="1" height="18" fill="#00ff00"/><rect x="1193" y="477" width="3" height="8" fill="#00ff00"/><rect x="1198" y="470" width="1" height="25" fill="#ff0000"/><rect x="1197" y="480" width="3" height="6" fill="#ff0000"/><rect x="1202" y="478" width="1" height="14" fill="#00ff00"/><rect x="1201" y="482" width="3" height="3" fill="#00ff00"/><rect x="1206" y="477" width="1" height="11" fill="#ff0000"/><rect x="1205" y="477" width="3" height="9" fill="#ff0000"/><rect x="1210" y="473" width="1" height="19" fill="#ff0000"/><rect x="1209" y="477" width="3" height="2" fill="#ff0000"/><rect x="1214" y="472" width="1" height="29" fill="#00ff00"/><rect x="1213" y="477" width="3" height="18" fill="#00ff00"/><rect x="1218" y="493" width="1" height="14" fill="#00ff00"/><rect x="1217" y="494" width="3" height="6" fill="#00ff00"/><rect x="1222" y="497" width="1" height="11" fill="#ff0000"/><rect x="1221" y="498" width="3" height="3" fill="#ff0000"/><rect x="1226" y="497" width="1" height="13" fill="#00ff00"/><rect x="1225" y="498" width="3" height="12" fill="#00ff00"/><rect x="1230" y="506" width="1" height="4" fill="#ff0000"/><rect x="1229" y="507" width="3" height="3" fill="#ff0000"/><rect x="1234" y="505" width="1" height="20" fill="#00ff00"/><rect x="1233" y="507" width="3" height="7" fill="#00ff00"/><rect x="1238" y="500" width="1" height="19" fill="#ff0000"/><rect x="1237" y="513" width="3" height="1" fill="#ff0000"/><rect x="1242" y="513" width="1" height="13" fill="#00ff00"/><rect x="1241" y="514" width="3" height="6" fill="#00ff00"/><rect x="1246" y="518" width="1" height="21" fill="#00ff00"/><rect x="1245" y="519" width="3" height="19" fill="#00ff00"/><rect x="1250" y="534" width="1" height="26" fill="#00ff00"/><rect x="1249" y="538" width="3" height="17" fill="#00ff00"/><rect x="1254" y="556" width="1" height="8" fill="#00ff00"/><rect x="1253" y="556" width="3" height="7" fill="#00ff00"/><rect x="1258" y="548" width="1" height="20" fill="#ff0000"/><rect x="1257" y="555" width="3" height="8" fill="#ff0000"/><rect x="1262" y="554" width="1" height="12" fill="#00ff00"/><rect x="1261" y="555" width="3" height="5" fill="#00ff00"/><rect x="1266" y="550" width="1" height="13" fill="#ff0000"/><rect x="1265" y="554" width="3" height="6" fill="#ff0000"/><polyline points="2.5,437.4 6.5,436.4 10.5,435.8 14.5,435.2 18.5,434.9 22.5,435.0 26.5,435.0 30.5,435.4 34.5,436.1 38.5,436.8 42.5,437.9 46.5,438.9 50.5,439.5 54.5,440.2 58.5,440.7 62.5,441.5 66.5,442.2 70.5,443.4 74.5,445.1 78.5,447.0 82.5,449.2 86.5,452.2 90.5,455.0 94.5,457.8 98.5,460.5 102.5,463.3 106.5,466.5 110.5,469.1 114.5,471.0 118.5,471.6 122.5,473.5 126.5,475.3 130.5,477.0 134.5,478.5 138.5,480.1 142.5,481.4 146.5,482.7 150.5,483.8 154.5,484.6 158.5,485.4 162.5,485.3 166.5,485.1 170.5,485.6 174.5,485.8 178.5,485.8 182.5,485.5 186.5,485.1 190.5,484.2 194.5,482.9 198.5,481.4 202.5,479.5 206.5,476.6 210.5,473.9 214.5,471.0 218.5,468.1 222.5,465.3 226.5,462.1 230.5,459.7 234.5,457.7 238.5,456.3 242.5,454.4 246.5,452.7 250.5,451.0 254.5,449.3 258.5,447.5 262.5,445.8 266.5,444.4 270.5,443.1 274.5,441.2 278.5,439.2 282.5,437.6 286.5,435.6 290.5,432.9 294.5,430.6 298.5,428.7 302.5,427.4 306.5,425.7 310.5,424.1 314.5,422.3 318.5,420.8 322.5,418.4 326.5,414.0 330.5,409.8 334.5,404.6 338.5,398.5 342.5,392.8 346.5,386.8 350.5,378.6 354.5,367.1 358.5,356.1 362.5,346.2 366.5,335.5 370.5,323.8 374.5,312.7 378.5,302.8 382.5,295.4 386.5,287.7 390.5,281.1 394.5,272.9 398.5,265.4 402.5,257.1 406.5,250.3 410.5,243.9 414.5,237.0 418.5,230.3 422.5,224.6 426.5,219.0 430.5,213.8 434.5,208.8 438.5,203.9 442.5,200.0 446.5,198.9 450.5,195.7 454.5,193.2 458.5,192.9 462.5,192.0 466.5,191.3 470.5,191.2 474.5,194.9 478.5,198.8 482.5,201.2 486.5,204.1 490.5,208.6 494.5,213.0 498.5,216.6 502.5,217.9 506.5,217.6 510.5,216.4 514.5,217.2 518.5,218.1 522.5,218.8 526.5,220.0 530.5,222.1 534.5,224.2 538.5,225.1 542.5,224.8 546.5,224.1 550.5,223.1 554.5,222.0 558.5,220.6 562.5,220.5 566.5,220.7 570.5,222.5 574.5,224.1 578.5,224.1 582.5,224.3 586.5,225.2 590.5,228.7 594.5,231.7 598.5,234.1 602.5,236.7 606.5,239.7 610.5,243.7 614.5,248.0 618.5,252.0 622.5,255.5 626.5,261.7 630.5,267.5 634.5,273.9 638.5,279.2 642.5,286.1 646.5,289.8 650.5,292.6 654.5,295.5 658.5,299.2 662.5,303.2 666.5,308.0 670.5,312.4 674.5,316.8 678.5,321.3 682.5,325.1 686.5,328.4 690.5,331.2 694.5,333.9 698.5,336.8 702.5,340.0 706.5,342.5 710.5,344.4 714.5,346.3 718.5,347.8 722.5,350.0 726.5,352.0 730.5,352.5 734.5,351.8 738.5,351.4 742.5,350.8 746.5,349.3 750.5,347.9 754.5,346.2 758.5,344.6 762.5,343.4 766.5,343.6 770.5,343.7 774.5,344.0 778.5,344.8 782.5,345.9 786.5,347.4 790.5,349.5 794.5,351.1 798.5,352.8 802.5,354.2 806.5,355.6 810.5,357.7 814.5,359.7 818.5,362.5 822.5,365.0 826.5,367.5 830.5,369.8 834.5,372.7 838.5,375.5 842.5,377.0 846.5,378.6 850.5,380.3 854.5,383.0 858.5,385.6 862.5,388.9 866.5,392.0 870.5,395.0 874.5,398.3 878.5,402.1 882.5,405.3 886.5,408.6 890.5,411.9 894.5,415.4 898.5,418.2 902.5,420.4 906.5,422.8 910.5,425.2 914.5,428.1 918.5,431.1 922.5,434.2 926.5,437.1 930.5,439.9 934.5,442.6 938.5,445.2 942.5,448.3 946.5,451.1 950.5,452.6 954.5,453.5 958.5,454.6 962.5,456.6 966.5,458.3 970.5,459.9 974.5,460.7 978.5,461.5 982.5,461.5 986.5,462.2 990.5,462.7 994.5,461.8 998.5,460.6 1002.5,458.7 1006.5,457.0 1010.5,455.1 1014.5,453.2 1018.5,451.9 1022.5,449.9 1026.5,448.2 1030.5,446.6 1034.5,444.7 1038.5,442.7 1042.5,440.6 1046.5,438.5 1050.5,436.5 1054.5,435.7 1058.5,435.4 1062.5,434.7 1066.5,434.4 1070.5,434.9 1074.5,435.0 1078.5,434.3 1082.5,434.2 1086.5,434.3 1090.5,434.5 1094.5,435.3 1098.5,435.5 1102.5,436.1 1106.5,436.3 1110.5,436.8 1114.5,437.5 1118.5,438.9 1122.5,439.3 1126.5,439.3 1130.5,440.1 1134.5,440.8 1138.5,441.7 1142.5,444.5 1146.5,446.2 1150.5,448.5 1154.5,451.1 1158.5,453.6 1162.5,456.4 1166.5,458.7 1170.5,460.7 1174.5,461.6 1178.5,461.3 1182.5,461.2 1186.5,461.6 1190.5,462.0 1194.5,462.8 1198.5,464.2 1202.5,465.3 1206.5,466.1 1210.5,466.6 1214.5,467.4 1218.5,468.5 1222.5,469.7 1226.5,471.2 1230.5,472.7 1234.5,475.0 1238.5,476.8 1242.5,480.3 1246.5,484.8 1250.5,489.5 1254.5,494.3 1258.5,498.5 1262.5,501.3 1266.5,504.2" fill="none" stroke="#0000ff" stroke-width="1"/><polyline points="2.5,428.4 6.5,428.3 10.5,429.0 14.5,430.0 18.5,431.5 22.5,433.5 26.5,435.4 30.5,437.6 34.5,440.3 38.5,442.8 42.5,446.9 46.5,450.4 50.5,452.0 54.5,451.8 58.5,453.6 62.5,455.5 66.5,456.8 70.5,459.1 74.5,461.6 78.5,463.9 82.5,466.7 86.5,470.9 90.5,474.0 94.5,477.4 98.5,479.9 102.5,482.7 106.5,486.4 110.5,489.5 114.5,492.1 118.5,493.2 122.5,495.5 126.5,496.6 130.5,497.4 134.5,497.5 138.5,497.7 142.5,496.2 146.5,494.9 150.5,493.2 154.5,491.8 158.5,490.2 162.5,487.3 166.5,484.7 170.5,483.2 174.5,482.3 178.5,479.8 182.5,477.4 186.5,474.3 190.5,471.1 194.5,467.6 198.5,463.8 202.5,459.8 206.5,455.6 210.5,451.1 214.5,446.6 218.5,443.0 222.5,440.1 226.5,436.2 230.5,433.5 234.5,432.0 238.5,430.7 242.5,429.7 246.5,429.2 250.5,429.0 254.5,428.7 258.5,429.3 262.5,430.3 266.5,431.6 270.5,433.4 274.5,434.1 278.5,434.3 282.5,434.6 286.5,433.2 290.5,430.0 294.5,427.1 298.5,424.7 302.5,423.1 306.5,420.0 310.5,417.1 314.5,413.6 318.5,410.1 322.5,404.2 326.5,393.2 330.5,383.9 334.5,372.6 338.5,359.2 342.5,348.3 346.5,337.4 350.5,322.0 354.5,299.8 358.5,278.0 362.5,259.4 366.5,239.5 370.5,217.8 374.5,197.1 378.5,181.4 382.5,176.3 386.5,169.9 390.5,168.6 394.5,165.1 398.5,161.3 402.5,156.7 406.5,158.4 410.5,166.1 414.5,171.9 418.5,176.4 422.5,185.3 426.5,195.4 430.5,205.0 434.5,212.3 438.5,214.0 442.5,216.3 446.5,217.1 450.5,218.3 454.5,217.9 458.5,221.6 462.5,223.3 466.5,224.6 470.5,223.9 474.5,224.1 478.5,222.9 482.5,221.3 486.5,218.7 490.5,217.3 494.5,216.6 498.5,217.0 502.5,216.9 506.5,217.0 510.5,218.3 514.5,217.2 518.5,217.2 522.5,215.7 526.5,220.2 530.5,224.3 534.5,226.2 538.5,227.6 542.5,229.6 546.5,228.6 550.5,226.8 554.5,223.7 558.5,219.8 562.5,222.5 566.5,226.3 570.5,229.6 574.5,230.8 578.5,233.2 582.5,232.6 586.5,231.3 590.5,233.5 594.5,238.1 598.5,242.9 602.5,248.3 606.5,254.3 610.5,263.8 614.5,275.3 618.5,284.5 622.5,291.5 626.5,301.0 630.5,311.2 634.5,323.7 638.5,334.7 642.5,346.0 646.5,351.1 650.5,354.9 654.5,357.8 658.5,361.5 662.5,365.8 666.5,366.3 670.5,364.8 674.5,362.5 678.5,360.7 682.5,358.4 686.5,356.9 690.5,352.5 694.5,348.1 698.5,342.0 702.5,340.1 706.5,338.2 710.5,338.3 714.5,339.0 718.5,338.4 722.5,338.4 726.5,339.1 730.5,340.3 734.5,340.7 738.5,340.9 742.5,339.5 746.5,339.7 750.5,341.2 754.5,343.7 758.5,344.7 762.5,347.9 766.5,349.3 770.5,349.4 774.5,349.7 778.5,350.4 782.5,352.7 786.5,355.5 790.5,359.8 794.5,361.9 798.5,365.0 802.5,369.0 806.5,373.4 810.5,377.2 814.5,380.4 818.5,383.0 822.5,386.1 826.5,389.3 830.5,393.4 834.5,398.8 838.5,401.7 842.5,401.8 846.5,401.4 850.5,402.9 854.5,405.4 858.5,408.0 862.5,410.9 866.5,413.2 870.5,416.8 874.5,420.3 878.5,424.2 882.5,428.8 886.5,432.4 890.5,433.4 894.5,435.4 898.5,438.8 902.5,442.5 906.5,446.5 910.5,450.2 914.5,453.0 918.5,455.3 922.5,459.6 926.5,463.6 930.5,466.3 934.5,467.1 938.5,468.6 942.5,471.1 946.5,473.4 950.5,473.2 954.5,474.4 958.5,475.0 962.5,474.1 966.5,472.4 970.5,471.1 974.5,468.9 978.5,466.4 982.5,463.3 986.5,461.0 990.5,459.9 994.5,455.9 998.5,450.6 1002.5,445.1 1006.5,441.8 1010.5,436.9 1014.5,432.4 1018.5,428.7 1022.5,424.4 1026.5,421.6 1030.5,420.0 1034.5,416.9 1038.5,415.0 1042.5,413.3 1046.5,411.7 1050.5,412.0 1054.5,413.8 1058.5,418.7 1062.5,423.2 1066.5,429.0 1070.5,433.9 1074.5,438.3 1078.5,441.5 1082.5,444.0 1086.5,446.0 1090.5,449.2 1094.5,452.9 1098.5,455.6 1102.5,458.0 1106.5,460.7 1110.5,462.2 1114.5,460.4 1118.5,459.8 1122.5,455.6 1126.5,451.3 1130.5,447.7 1134.5,446.4 1138.5,444.8 1142.5,446.3 1146.5,446.7 1150.5,448.4 1154.5,450.3 1158.5,452.7 1162.5,456.3 1166.5,458.7 1170.5,461.6 1174.5,462.5 1178.5,465.7 1182.5,470.1 1186.5,475.2 1190.5,479.4 1194.5,483.4 1198.5,483.7 1202.5,485.0 1206.5,483.7 1210.5,482.5 1214.5,482.4 1218.5,481.5 1222.5,481.5 1226.5,483.2 1230.5,485.8 1234.5,489.8 1238.5,493.1 1242.5,495.6 1246.5,500.0 1250.5,504.9 1254.5,510.9 1258.5,515.9 1262.5,521.7 1266.5,527.2" fill="none" stroke="#ff0000" stroke-width="1"/><polyline points="2.5,432.3 6.5,436.0 10.5,440.3 14.5,440.9 18.5,437.9 22.5,442.1 26.5,445.1 30.5,447.9 34.5,452.6 38.5,455.8 42.5,460.0 46.5,463.9 50.5,464.7 54.5,463.4 58.5,462.4 62.5,460.1 66.5,458.2 70.5,460.7 74.5,465.3 78.5,471.0 82.5,476.4 86.5,487.2 90.5,494.3 94.5,500.3 98.5,504.8 102.5,508.6 106.5,508.3 110.5,506.9 114.5,503.5 118.5,497.4 122.5,494.0 126.5,489.2 130.5,487.5 134.5,486.1 138.5,489.0 142.5,489.4 146.5,489.4 150.5,488.4 154.5,488.8 158.5,487.6 162.5,483.4 166.5,478.6 170.5,475.7 174.5,470.8 178.5,464.8 182.5,461.3 186.5,458.1 190.5,452.2 194.5,447.8 198.5,444.7 202.5,440.2 206.5,436.2 210.5,432.6 214.5,428.9 218.5,425.0 222.5,423.5 226.5,421.4 230.5,421.7 234.5,423.8 238.5,426.9 242.5,428.8 246.5,432.5 250.5,435.3 254.5,435.5 258.5,436.2 262.5,437.9 266.5,439.5 270.5,441.0 274.5,440.3 278.5,437.5 282.5,433.7 286.5,426.1 290.5,414.4 294.5,407.2 298.5,401.9 302.5,400.1 306.5,398.2 310.5,399.4 314.5,398.3 318.5,397.1 322.5,386.6 326.5,366.0 330.5,347.4 334.5,322.8 338.5,291.2 342.5,269.6 346.5,258.3 350.5,234.1 354.5,198.3 358.5,172.6 362.5,149.1 366.5,125.2 370.5,106.4 374.5,109.5 378.5,116.2 382.5,133.3 386.5,152.5 390.5,185.0 394.5,201.6 398.5,213.4 402.5,203.7 406.5,201.7 410.5,191.2 414.5,191.7 418.5,191.2 422.5,205.1 426.5,210.1 430.5,218.6 434.5,229.2 438.5,238.7 442.5,239.4 446.5,245.7 450.5,238.7 454.5,229.2 458.5,225.1 462.5,221.4 466.5,212.3 470.5,207.3 474.5,208.5 478.5,208.5 482.5,204.3 486.5,202.0 490.5,210.8 494.5,217.7 498.5,223.0 502.5,233.5 506.5,233.8 510.5,231.9 514.5,226.9 518.5,221.9 522.5,209.0 526.5,216.3 530.5,225.4 534.5,233.7 538.5,233.6 542.5,241.0 546.5,234.3 550.5,224.6 554.5,215.9 558.5,211.4 562.5,213.8 566.5,225.6 570.5,234.9 574.5,241.8 578.5,246.5 582.5,244.5 586.5,239.4 590.5,244.4 594.5,254.1 598.5,268.1 602.5,278.5 606.5,288.8 610.5,300.9 614.5,315.6 618.5,330.4 622.5,346.5 626.5,365.6 630.5,374.6 634.5,382.1 638.5,385.1 642.5,392.0 646.5,384.8 650.5,376.4 654.5,363.5 658.5,353.5 662.5,344.1 666.5,343.6 670.5,343.2 674.5,343.7 678.5,344.2 682.5,345.0 686.5,348.2 690.5,347.7 694.5,344.6 698.5,339.7 702.5,333.6 706.5,323.9 710.5,323.5 714.5,328.2 718.5,334.0 722.5,338.8 726.5,345.8 730.5,349.4 734.5,348.8 738.5,351.9 742.5,351.1 746.5,349.3 750.5,347.0 754.5,348.1 758.5,344.3 762.5,347.6 766.5,350.5 770.5,351.2 774.5,350.7 778.5,354.8 782.5,359.3 786.5,366.6 790.5,377.9 794.5,386.1 798.5,392.0 802.5,394.9 806.5,397.2 810.5,396.8 814.5,396.1 818.5,398.1 822.5,398.3 826.5,395.9 830.5,396.2 834.5,406.4 838.5,411.6 842.5,410.6 846.5,411.9 850.5,412.7 854.5,410.4 858.5,412.6 862.5,422.7 866.5,429.8 870.5,434.9 874.5,439.9 878.5,443.7 882.5,445.9 886.5,450.0 890.5,452.9 894.5,453.7 898.5,451.3 902.5,450.2 906.5,452.3 910.5,457.5 914.5,461.9 918.5,469.1 922.5,477.7 926.5,482.7 930.5,485.0 934.5,483.3 938.5,483.1 942.5,482.4 946.5,480.1 950.5,472.9 954.5,471.7 958.5,468.1 962.5,460.5 966.5,454.9 970.5,456.1 974.5,453.8 978.5,453.7 982.5,452.4 986.5,453.2 990.5,452.1 994.5,446.5 998.5,438.2 1002.5,429.2 1006.5,419.0 1010.5,407.3 1014.5,402.3 1018.5,399.1 1022.5,397.0 1026.5,399.4 1030.5,406.4 1034.5,410.5 1038.5,414.1 1042.5,421.9 1046.5,424.4 1050.5,424.3 1054.5,429.5 1058.5,439.4 1062.5,446.9 1066.5,455.8 1070.5,463.5 1074.5,467.7 1078.5,461.0 1082.5,457.7 1086.5,453.8 1090.5,453.3 1094.5,455.1 1098.5,461.1 1102.5,463.7 1106.5,465.5 1110.5,465.8 1114.5,460.3 1118.5,458.6 1122.5,449.0 1126.5,437.2 1130.5,427.1 1134.5,421.8 1138.5,415.9 1142.5,427.8 1146.5,440.5 1150.5,457.0 1154.5,472.2 1158.5,485.6 1162.5,493.2 1166.5,499.5 1170.5,497.3 1174.5,492.8 1178.5,485.3 1182.5,475.9 1186.5,473.3 1190.5,471.6 1194.5,474.4 1198.5,478.5 1202.5,482.3 1206.5,480.8 1210.5,480.9 1214.5,482.8 1218.5,486.9 1222.5,489.5 1226.5,496.0 1230.5,502.0 1234.5,506.0 1238.5,508.5 1242.5,512.7 1246.5,518.5 1250.5,527.9 1254.5,537.7 1258.5,546.1 1262.5,554.1 1266.5,557.1" fill="none" stroke="#ffa500" stroke-width="1"/><rect x="2" y="388" width="1592" height="2" fill="#ff0000"/><rect x="2" y="420" width="1592" height="2" fill="#ff0000"/><rect x="1" y="418" width="6" height="6" fill="#ff0000"/><rect x="3" y="420" width="2" height="2" fill="#ffffff"/><rect x="1588" y="418" width="6" height="6" fill="#ff0000"/><rect x="1590" y="420" width="2" height="2" fill="#ffffff"/><rect x="2" y="464" width="1592" height="2" fill="#ff0000"/><rect x="1" y="462" width="6" height="6" fill="#ff0000"/><rect x="3" y="464" width="2" height="2" fill="#ffffff"/><rect x="1588" y="462" width="6" height="6" fill="#ff0000"/><rect x="1590" y="464" width="2" height="2" fill="#ffffff"/><rect x="2" y="514" width="1592" height="2" fill="#00ff00"/><rect x="1" y="512" width="6" height="6" fill="#00ff00"/><rect x="3" y="514" width="2" height="2" fill="#ffffff"/><rect x="1588" y="512" width="6" height="6" fill="#00ff00"/><rect x="1590" y="514" width="2" height="2" fill="#ffffff"/><rect x="2" y="555" width="1592" height="2" fill="#0000ff"/><rect x="1" y="553" width="6" height="6" fill="#0000ff"/><rect x="3" y="555" width="2" height="2" fill="#ffffff"/><rect x="1588" y="553" width="6" height="6" fill="#0000ff"/><rect x="1590" y="555" width="2" height="2" fill="#ffffff"/></g><rect x="1" y="24" width="1594" height="1" fill="#000"/><rect x="1" y="580" width="1594" height="1" fill="#000"/><rect x="1" y="24" width="1" height="557" fill="#000"/><rect x="1594" y="24" width="1" height="557" fill="#000"/><path d="M1270 25 L1279 25 L1274.5 30 Z" fill="#c0c0c0"/><path d="M5 31 L12 31 L8.5 35 Z" fill="#000"/><text x="16.54" y="36" font-size="10.2" fill="#000" textLength="66.28" lengthAdjust="spacingAndGlyphs" stroke="#000" stroke-width="0.15">USDCAD,Daily</text><text x="88.69" y="36" font-size="10.2" fill="#000" textLength="141.58" lengthAdjust="spacingAndGlyphs" stroke="#000" stroke-width="0.15">1.27911 1.28244 1.27814 1.28134</text><rect x="1595" y="49" width="2" height="1" fill="#000"/><text x="1599.79" y="53" font-size="10.2" fill="#000" stroke="#000" stroke-width="0.15" textLength="33.57" lengthAdjust="spacingAndGlyphs">1.46760</text><rect x="1595" y="82" width="2" height="1" fill="#000"/><text x="1599.79" y="86" font-size="10.2" fill="#000" stroke="#000" stroke-width="0.15" textLength="33.57" lengthAdjust="spacingAndGlyphs">1.45535</text><rect x="1595" y="115" width="2" height="1" fill="#000"/><text x="1599.79" y="119" font-size="10.2" fill="#000" stroke="#000" stroke-width="0.15" textLength="33.57" lengthAdjust="spacingAndGlyphs">1.44310</text><rect x="1595" y="148" width="2" height="1" fill="#000"/><text x="1599.79" y="152" font-size="10.2" fill="#000" stroke="#000" stroke-width="0.15" textLength="33.57" lengthAdjust="spacingAndGlyphs">1.43120</text><rect x="1595" y="181" width="2" height="1" fill="#000"/><text x="1599.79" y="185" font-size="10.2" fill="#000" stroke="#000" stroke-width="0.15" textLength="33.57" lengthAdjust="spacingAndGlyphs">1.41895</text><rect x="1595" y="214" width="2" height="1" fill="#000"/><text x="1599.79" y="218" font-size="10.2" fill="#000" stroke="#000" stroke-width="0.15" textLength="33.57" lengthAdjust="spacingAndGlyphs">1.40670</text><rect x="1595" y="247" width="2" height="1" fill="#000"/><text x="1599.79" y="251" font-size="10.2" fill="#000" stroke="#000" stroke-width="0.15" textLength="33.57" lengthAdjust="spacingAndGlyphs">1.39445</text><rect x="1595" y="280" width="2" height="1" fill="#000"/><text x="1599.79" y="284" font-size="10.2" fill="#000" stroke="#000" stroke-width="0.15" textLength="33.57" lengthAdjust="spacingAndGlyphs">1.38220</text><rect x="1595" y="313" width="2" height="1" fill="#000"/><text x="1599.79" y="317" font-size="10.2" fill="#000" stroke="#000" stroke-width="0.15" textLength="33.57" lengthAdjust="spacingAndGlyphs">1.36995</text><rect x="1595" y="346" width="2" height="1" fill="#000"/><text x="1599.79" y="350" font-size="10.2" fill="#000" stroke="#000" stroke-width="0.15" textLength="33.57" lengthAdjust="spacingAndGlyphs">1.35770</text><rect x="1595" y="379" width="2" height="1" fill="#000"/><text x="1599.79" y="383" font-size="10.2" fill="#000" stroke="#000" stroke-width="0.15" textLength="33.57" lengthAdjust="spacingAndGlyphs">1.34580</text><rect x="1595" y="412" width="2" height="1" fill="#000"/><text x="1599.79" y="416" font-size="10.2" fill="#000" stroke="#000" stroke-width="0.15" textLength="33.57" lengthAdjust="spacingAndGlyphs">1.33355</text><rect x="1595" y="445" width="2" height="1" fill="#000"/><text x="1599.79" y="449" font-size="10.2" fill="#000" stroke="#000" stroke-width="0.15" textLength="33.57" lengthAdjust="spacingAndGlyphs">1.32130</text><rect x="1595" y="478" width="2" height="1" fill="#000"/><text x="1599.79" y="482" font-size="10.2" fill="#000" stroke="#000" stroke-width="0.15" textLength="33.57" lengthAdjust="spacingAndGlyphs">1.30905</text><rect x="1595" y="511" width="2" height="1" fill="#000"/><text x="1599.79" y="515" font-size="10.2" fill="#000" stroke="#000" stroke-width="0.15" textLength="33.57" lengthAdjust="spacingAndGlyphs">1.29680</text><rect x="1595" y="544" width="2" height="1" fill="#000"/><text x="1599.79" y="548" font-size="10.2" fill="#000" stroke="#000" stroke-width="0.15" textLength="33.57" lengthAdjust="spacingAndGlyphs">1.28455</text><rect x="1595" y="577" width="2" height="1" fill="#000"/><text x="1599.79" y="581" font-size="10.2" fill="#000" stroke="#000" stroke-width="0.15" textLength="33.57" lengthAdjust="spacingAndGlyphs">1.27265</text><rect x="1596" y="383" width="41" height="11" fill="#ff0000"/><text x="1599.79" y="392" font-size="10.2" fill="#fff" stroke="#fff" stroke-width="0.15" textLength="33.57" lengthAdjust="spacingAndGlyphs">1.34206</text><rect x="1596" y="415" width="41" height="11" fill="#ff0000"/><text x="1599.79" y="424" font-size="10.2" fill="#fff" stroke="#fff" stroke-width="0.15" textLength="33.57" lengthAdjust="spacingAndGlyphs">1.33011</text><rect x="1596" y="459" width="41" height="11" fill="#ff0000"/><text x="1599.79" y="468" font-size="10.2" fill="#fff" stroke="#fff" stroke-width="0.15" textLength="33.57" lengthAdjust="spacingAndGlyphs">1.31393</text><rect x="1596" y="509" width="41" height="11" fill="#00ff00"/><text x="1599.79" y="518" font-size="10.2" fill="#fff" stroke="#fff" stroke-width="0.15" textLength="33.57" lengthAdjust="spacingAndGlyphs">1.29561</text><rect x="1596" y="548" width="41" height="11" fill="#000000"/><text x="1599.79" y="557" font-size="10.2" fill="#fff" stroke="#fff" stroke-width="0.15" textLength="33.57" lengthAdjust="spacingAndGlyphs">1.28134</text><rect x="1596" y="550" width="41" height="11" fill="#0000ff"/><text x="1599.79" y="559" font-size="10.2" fill="#fff" stroke="#fff" stroke-width="0.15" textLength="33.57" lengthAdjust="spacingAndGlyphs">1.28023</text><g clip-path="url(#cr)"><line x1="3" y1="613.5" x2="1594" y2="613.5" stroke="#c0c0c0" stroke-width="1" stroke-dasharray="3,3"/><line x1="3" y1="653.5" x2="1594" y2="653.5" stroke="#c0c0c0" stroke-width="1" stroke-dasharray="3,3"/><polyline points="2.5,628.1 6.5,630.0 10.5,633.9 14.5,633.5 18.5,636.4 22.5,640.4 26.5,638.3 30.5,641.3 34.5,645.8 38.5,643.9 42.5,649.4 46.5,645.7 50.5,639.0 54.5,637.8 58.5,637.4 62.5,640.6 66.5,638.3 70.5,645.1 74.5,648.9 78.5,650.9 82.5,652.5 86.5,659.9 90.5,655.3 94.5,656.2 98.5,654.1 102.5,654.3 106.5,655.6 110.5,645.9 114.5,641.2 118.5,632.1 122.5,638.6 126.5,636.9 130.5,638.7 134.5,635.9 138.5,638.6 142.5,638.9 146.5,635.8 150.5,635.0 154.5,636.2 158.5,634.5 162.5,625.6 166.5,621.7 170.5,627.7 174.5,623.7 178.5,620.1 182.5,619.3 186.5,616.6 190.5,614.7 194.5,614.5 198.5,613.8 202.5,610.3 206.5,609.1 210.5,608.0 214.5,607.6 218.5,606.8 222.5,609.6 226.5,607.2 230.5,616.3 234.5,624.0 238.5,625.5 242.5,623.7 246.5,626.4 250.5,629.5 254.5,626.5 258.5,630.3 262.5,631.8 266.5,633.9 270.5,636.9 274.5,625.1 278.5,621.6 282.5,619.6 286.5,612.4 290.5,607.0 294.5,612.9 298.5,615.7 302.5,625.3 306.5,618.8 310.5,618.1 314.5,616.7 318.5,618.8 322.5,609.3 326.5,599.5 330.5,603.3 334.5,599.9 338.5,597.4 342.5,604.5 346.5,602.9 350.5,598.6 354.5,594.4 358.5,599.5 362.5,606.7 366.5,605.4 370.5,603.4 374.5,607.8 378.5,615.9 382.5,629.6 386.5,628.6 390.5,633.7 394.5,626.3 398.5,628.2 402.5,625.1 406.5,629.5 410.5,628.7 414.5,627.8 418.5,629.2 422.5,635.8 426.5,633.8 430.5,635.3 434.5,635.8 438.5,636.3 442.5,636.3 446.5,638.8 450.5,628.7 454.5,627.4 458.5,632.9 462.5,633.3 466.5,631.1 470.5,625.2 474.5,629.6 478.5,634.0 482.5,630.8 486.5,630.3 490.5,634.0 494.5,636.4 498.5,639.2 502.5,640.4 506.5,629.9 510.5,631.4 514.5,631.0 518.5,634.3 522.5,628.1 526.5,637.0 530.5,639.6 534.5,638.3 538.5,633.4 542.5,634.3 546.5,630.0 550.5,630.4 554.5,630.2 558.5,629.1 562.5,637.7 566.5,642.0 570.5,639.6 574.5,636.4 578.5,632.9 582.5,634.2 586.5,636.1 590.5,643.8 594.5,645.4 598.5,646.4 602.5,642.9 606.5,644.4 610.5,652.0 614.5,654.8 618.5,655.6 622.5,653.6 626.5,656.6 630.5,655.9 634.5,657.8 638.5,652.7 642.5,654.6 646.5,641.3 650.5,639.4 654.5,637.5 658.5,637.5 662.5,640.9 666.5,640.1 670.5,638.1 674.5,637.1 678.5,637.0 682.5,641.5 686.5,643.8 690.5,635.5 694.5,631.1 698.5,628.6 702.5,632.2 706.5,629.8 710.5,635.8 714.5,638.1 718.5,636.8 722.5,638.8 726.5,639.3 730.5,640.5 734.5,636.0 738.5,640.4 742.5,635.9 746.5,634.8 750.5,635.4 754.5,637.1 758.5,633.1 762.5,641.0 766.5,638.8 770.5,635.3 774.5,634.9 778.5,639.3 782.5,646.8 786.5,648.8 790.5,651.3 794.5,644.0 798.5,644.4 802.5,647.2 806.5,648.6 810.5,647.4 814.5,639.2 818.5,643.6 822.5,644.0 826.5,640.8 830.5,644.3 834.5,651.9 838.5,647.5 842.5,636.7 846.5,637.9 850.5,640.4 854.5,644.3 858.5,647.1 862.5,649.3 866.5,645.0 870.5,644.5 874.5,648.2 878.5,649.6 882.5,650.0 886.5,649.4 890.5,645.8 894.5,647.3 898.5,642.2 902.5,644.9 906.5,649.1 910.5,651.4 914.5,651.4 918.5,652.6 922.5,656.4 926.5,654.2 930.5,651.3 934.5,640.8 938.5,644.6 942.5,648.4 946.5,642.9 950.5,631.7 954.5,635.1 958.5,634.9 962.5,632.5 966.5,631.8 970.5,633.8 974.5,630.9 978.5,635.1 982.5,630.3 986.5,633.6 990.5,631.9 994.5,622.0 998.5,621.1 1002.5,617.0 1006.5,617.8 1010.5,614.8 1014.5,617.0 1018.5,620.1 1022.5,617.1 1026.5,628.4 1030.5,632.4 1034.5,629.0 1038.5,630.4 1042.5,634.3 1046.5,633.6 1050.5,632.7 1054.5,638.9 1058.5,647.2 1062.5,646.0 1066.5,647.5 1070.5,643.5 1074.5,643.0 1078.5,632.1 1082.5,636.9 1086.5,637.9 1090.5,640.7 1094.5,643.8 1098.5,641.4 1102.5,639.8 1106.5,639.5 1110.5,639.9 1114.5,631.2 1118.5,636.8 1122.5,622.6 1126.5,619.9 1130.5,623.7 1134.5,625.5 1138.5,629.7 1142.5,642.7 1146.5,640.2 1150.5,646.5 1154.5,645.9 1158.5,646.4 1162.5,649.8 1166.5,644.5 1170.5,640.0 1174.5,635.7 1178.5,632.2 1182.5,634.2 1186.5,639.4 1190.5,636.8 1194.5,639.0 1198.5,637.2 1202.5,638.8 1206.5,636.0 1210.5,636.0 1214.5,641.5 1218.5,643.0 1222.5,642.3 1226.5,645.6 1230.5,644.5 1234.5,646.7 1238.5,645.7 1242.5,647.9 1246.5,653.0 1250.5,656.6 1254.5,658.4 1258.5,653.5 1262.5,654.7 1266.5,651.4" fill="none" stroke="#1e90ff" stroke-width="1"/></g><rect x="1" y="582" width="1594" height="1" fill="#000"/><rect x="1" y="684" width="1594" height="1" fill="#000"/><rect x="1" y="582" width="1" height="103" fill="#000"/><rect x="1594" y="582" width="1" height="103" fill="#000"/><text x="5.63" y="595" font-size="10.2" fill="#000" textLength="68.54" lengthAdjust="spacingAndGlyphs" stroke="#000" stroke-width="0.15">RSI(14) 31.9524</text><rect x="1595" y="584" width="2" height="1" fill="#000"/><rect x="1595" y="683" width="2" height="1" fill="#000"/><text x="1597.49" y="593" font-size="10.2" fill="#000" stroke="#000" stroke-width="0.15" textLength="15.49" lengthAdjust="spacingAndGlyphs">100</text><text x="1596.62" y="617" font-size="10.2" fill="#000" stroke="#000" stroke-width="0.15" textLength="10.33" lengthAdjust="spacingAndGlyphs">70</text><text x="1596.75" y="657" font-size="10.2" fill="#000" stroke="#000" stroke-width="0.15" textLength="10.33" lengthAdjust="spacingAndGlyphs">30</text><text x="1596.74" y="681" font-size="10.2" fill="#000" stroke="#000" stroke-width="0.15" textLength="5.16" lengthAdjust="spacingAndGlyphs">0</text><g clip-path="url(#cd)"><rect x="2" y="749" width="1" height="3" fill="#c0c0c0"/><rect x="6" y="749" width="1" height="3" fill="#c0c0c0"/><rect x="10" y="750" width="1" height="2" fill="#c0c0c0"/><rect x="14" y="750" width="1" height="2" fill="#c0c0c0"/><rect x="18" y="751" width="1" height="1" fill="#c0c0c0"/><rect x="22" y="752" width="1" height="1" fill="#c0c0c0"/><rect x="26" y="752" width="1" height="1" fill="#c0c0c0"/><rect x="30" y="752" width="1" height="1" fill="#c0c0c0"/><rect x="34" y="752" width="1" height="2" fill="#c0c0c0"/><rect x="38" y="752" width="1" height="3" fill="#c0c0c0"/><rect x="42" y="752" width="1" height="4" fill="#c0c0c0"/><rect x="46" y="752" width="1" height="5" fill="#c0c0c0"/><rect x="50" y="752" width="1" height="4" fill="#c0c0c0"/><rect x="54" y="752" width="1" height="4" fill="#c0c0c0"/><rect x="58" y="752" width="1" height="4" fill="#c0c0c0"/><rect x="62" y="752" width="1" height="4" fill="#c0c0c0"/><rect x="66" y="752" width="1" height="4" fill="#c0c0c0"/><rect x="70" y="752" width="1" height="4" fill="#c0c0c0"/><rect x="74" y="752" width="1" height="5" fill="#c0c0c0"/><rect x="78" y="752" width="1" height="6" fill="#c0c0c0"/><rect x="82" y="752" width="1" height="7" fill="#c0c0c0"/><rect x="86" y="752" width="1" height="9" fill="#c0c0c0"/><rect x="90" y="752" width="1" height="10" fill="#c0c0c0"/><rect x="94" y="752" width="1" height="11" fill="#c0c0c0"/><rect x="98" y="752" width="1" height="11" fill="#c0c0c0"/><rect x="102" y="752" width="1" height="11" fill="#c0c0c0"/><rect x="106" y="752" width="1" height="12" fill="#c0c0c0"/><rect x="110" y="752" width="1" height="11" fill="#c0c0c0"/><rect x="114" y="752" width="1" height="10" fill="#c0c0c0"/><rect x="118" y="752" width="1" height="8" fill="#c0c0c0"/><rect x="122" y="752" width="1" height="7" fill="#c0c0c0"/><rect x="126" y="752" width="1" height="7" fill="#c0c0c0"/><rect x="130" y="752" width="1" height="6" fill="#c0c0c0"/><rect x="134" y="752" width="1" height="5" fill="#c0c0c0"/><rect x="138" y="752" width="1" height="5" fill="#c0c0c0"/><rect x="142" y="752" width="1" height="5" fill="#c0c0c0"/><rect x="146" y="752" width="1" height="4" fill="#c0c0c0"/><rect x="150" y="752" width="1" height="3" fill="#c0c0c0"/><rect x="154" y="752" width="1" height="3" fill="#c0c0c0"/><rect x="158" y="752" width="1" height="3" fill="#c0c0c0"/><rect x="162" y="752" width="1" height="1" fill="#c0c0c0"/><rect x="166" y="752" width="1" height="1" fill="#c0c0c0"/><rect x="170" y="751" width="1" height="1" fill="#c0c0c0"/><rect x="174" y="750" width="1" height="2" fill="#c0c0c0"/><rect x="178" y="749" width="1" height="3" fill="#c0c0c0"/><rect x="182" y="748" width="1" height="4" fill="#c0c0c0"/><rect x="186" y="747" width="1" height="5" fill="#c0c0c0"/><rect x="190" y="746" width="1" height="6" fill="#c0c0c0"/><rect x="194" y="745" width="1" height="7" fill="#c0c0c0"/><rect x="198" y="744" width="1" height="8" fill="#c0c0c0"/><rect x="202" y="743" width="1" height="9" fill="#c0c0c0"/><rect x="206" y="742" width="1" height="10" fill="#c0c0c0"/><rect x="210" y="742" width="1" height="10" fill="#c0c0c0"/><rect x="214" y="741" width="1" height="11" fill="#c0c0c0"/><rect x="218" y="741" width="1" height="11" fill="#c0c0c0"/><rect x="222" y="741" width="1" height="11" fill="#c0c0c0"/><rect x="226" y="740" width="1" height="12" fill="#c0c0c0"/><rect x="230" y="741" width="1" height="11" fill="#c0c0c0"/><rect x="234" y="742" width="1" height="10" fill="#c0c0c0"/><rect x="238" y="743" width="1" height="9" fill="#c0c0c0"/><rect x="242" y="743" width="1" height="9" fill="#c0c0c0"/><rect x="246" y="744" width="1" height="8" fill="#c0c0c0"/><rect x="250" y="745" width="1" height="7" fill="#c0c0c0"/><rect x="254" y="745" width="1" height="7" fill="#c0c0c0"/><rect x="258" y="746" width="1" height="6" fill="#c0c0c0"/><rect x="262" y="747" width="1" height="5" fill="#c0c0c0"/><rect x="266" y="748" width="1" height="4" fill="#c0c0c0"/><rect x="270" y="748" width="1" height="4" fill="#c0c0c0"/><rect x="274" y="748" width="1" height="4" fill="#c0c0c0"/><rect x="278" y="748" width="1" height="4" fill="#c0c0c0"/><rect x="282" y="747" width="1" height="5" fill="#c0c0c0"/><rect x="286" y="746" width="1" height="6" fill="#c0c0c0"/><rect x="290" y="744" width="1" height="8" fill="#c0c0c0"/><rect x="294" y="743" width="1" height="9" fill="#c0c0c0"/><rect x="298" y="743" width="1" height="9" fill="#c0c0c0"/><rect x="302" y="743" width="1" height="9" fill="#c0c0c0"/><rect x="306" y="743" width="1" height="9" fill="#c0c0c0"/><rect x="310" y="742" width="1" height="10" fill="#c0c0c0"/><rect x="314" y="742" width="1" height="10" fill="#c0c0c0"/><rect x="318" y="742" width="1" height="10" fill="#c0c0c0"/><rect x="322" y="740" width="1" height="12" fill="#c0c0c0"/><rect x="326" y="735" width="1" height="17" fill="#c0c0c0"/><rect x="330" y="731" width="1" height="21" fill="#c0c0c0"/><rect x="334" y="727" width="1" height="25" fill="#c0c0c0"/><rect x="338" y="722" width="1" height="30" fill="#c0c0c0"/><rect x="342" y="720" width="1" height="32" fill="#c0c0c0"/><rect x="346" y="717" width="1" height="35" fill="#c0c0c0"/><rect x="350" y="712" width="1" height="40" fill="#c0c0c0"/><rect x="354" y="704" width="1" height="48" fill="#c0c0c0"/><rect x="358" y="698" width="1" height="54" fill="#c0c0c0"/><rect x="362" y="697" width="1" height="55" fill="#c0c0c0"/><rect x="366" y="695" width="1" height="57" fill="#c0c0c0"/><rect x="370" y="692" width="1" height="60" fill="#c0c0c0"/><rect x="374" y="692" width="1" height="60" fill="#c0c0c0"/><rect x="378" y="695" width="1" height="57" fill="#c0c0c0"/><rect x="382" y="702" width="1" height="50" fill="#c0c0c0"/><rect x="386" y="708" width="1" height="44" fill="#c0c0c0"/><rect x="390" y="715" width="1" height="37" fill="#c0c0c0"/><rect x="394" y="717" width="1" height="35" fill="#c0c0c0"/><rect x="398" y="720" width="1" height="32" fill="#c0c0c0"/><rect x="402" y="721" width="1" height="31" fill="#c0c0c0"/><rect x="406" y="724" width="1" height="28" fill="#c0c0c0"/><rect x="410" y="727" width="1" height="25" fill="#c0c0c0"/><rect x="414" y="728" width="1" height="24" fill="#c0c0c0"/><rect x="418" y="730" width="1" height="22" fill="#c0c0c0"/><rect x="422" y="735" width="1" height="17" fill="#c0c0c0"/><rect x="426" y="737" width="1" height="15" fill="#c0c0c0"/><rect x="430" y="740" width="1" height="12" fill="#c0c0c0"/><rect x="434" y="743" width="1" height="9" fill="#c0c0c0"/><rect x="438" y="745" width="1" height="7" fill="#c0c0c0"/><rect x="442" y="747" width="1" height="5" fill="#c0c0c0"/><rect x="446" y="750" width="1" height="2" fill="#c0c0c0"/><rect x="450" y="748" width="1" height="4" fill="#c0c0c0"/><rect x="454" y="747" width="1" height="5" fill="#c0c0c0"/><rect x="458" y="747" width="1" height="5" fill="#c0c0c0"/><rect x="462" y="748" width="1" height="4" fill="#c0c0c0"/><rect x="466" y="748" width="1" height="4" fill="#c0c0c0"/><rect x="470" y="746" width="1" height="6" fill="#c0c0c0"/><rect x="474" y="745" width="1" height="7" fill="#c0c0c0"/><rect x="478" y="747" width="1" height="5" fill="#c0c0c0"/><rect x="482" y="746" width="1" height="6" fill="#c0c0c0"/><rect x="486" y="746" width="1" height="6" fill="#c0c0c0"/><rect x="490" y="747" width="1" height="5" fill="#c0c0c0"/><rect x="494" y="749" width="1" height="3" fill="#c0c0c0"/><rect x="498" y="751" width="1" height="1" fill="#c0c0c0"/><rect x="502" y="752" width="1" height="1" fill="#c0c0c0"/><rect x="506" y="752" width="1" height="1" fill="#c0c0c0"/><rect x="510" y="751" width="1" height="1" fill="#c0c0c0"/><rect x="514" y="750" width="1" height="2" fill="#c0c0c0"/><rect x="518" y="751" width="1" height="1" fill="#c0c0c0"/><rect x="522" y="749" width="1" height="3" fill="#c0c0c0"/><rect x="526" y="751" width="1" height="1" fill="#c0c0c0"/><rect x="530" y="752" width="1" height="1" fill="#c0c0c0"/><rect x="534" y="752" width="1" height="2" fill="#c0c0c0"/><rect x="538" y="752" width="1" height="2" fill="#c0c0c0"/><rect x="542" y="752" width="1" height="2" fill="#c0c0c0"/><rect x="546" y="752" width="1" height="1" fill="#c0c0c0"/><rect x="550" y="751" width="1" height="1" fill="#c0c0c0"/><rect x="554" y="750" width="1" height="2" fill="#c0c0c0"/><rect x="558" y="749" width="1" height="3" fill="#c0c0c0"/><rect x="562" y="751" width="1" height="1" fill="#c0c0c0"/><rect x="566" y="752" width="1" height="2" fill="#c0c0c0"/><rect x="570" y="752" width="1" height="3" fill="#c0c0c0"/><rect x="574" y="752" width="1" height="3" fill="#c0c0c0"/><rect x="578" y="752" width="1" height="3" fill="#c0c0c0"/><rect x="582" y="752" width="1" height="2" fill="#c0c0c0"/><rect x="586" y="752" width="1" height="2" fill="#c0c0c0"/><rect x="590" y="752" width="1" height="5" fill="#c0c0c0"/><rect x="594" y="752" width="1" height="7" fill="#c0c0c0"/><rect x="598" y="752" width="1" height="9" fill="#c0c0c0"/><rect x="602" y="752" width="1" height="10" fill="#c0c0c0"/><rect x="606" y="752" width="1" height="11" fill="#c0c0c0"/><rect x="610" y="752" width="1" height="15" fill="#c0c0c0"/><rect x="614" y="752" width="1" height="19" fill="#c0c0c0"/><rect x="618" y="752" width="1" height="22" fill="#c0c0c0"/><rect x="622" y="752" width="1" height="24" fill="#c0c0c0"/><rect x="626" y="752" width="1" height="26" fill="#c0c0c0"/><rect x="630" y="752" width="1" height="28" fill="#c0c0c0"/><rect x="634" y="752" width="1" height="30" fill="#c0c0c0"/><rect x="638" y="752" width="1" height="30" fill="#c0c0c0"/><rect x="642" y="752" width="1" height="30" fill="#c0c0c0"/><rect x="646" y="752" width="1" height="28" fill="#c0c0c0"/><rect x="650" y="752" width="1" height="25" fill="#c0c0c0"/><rect x="654" y="752" width="1" height="22" fill="#c0c0c0"/><rect x="658" y="752" width="1" height="19" fill="#c0c0c0"/><rect x="662" y="752" width="1" height="18" fill="#c0c0c0"/><rect x="666" y="752" width="1" height="17" fill="#c0c0c0"/><rect x="670" y="752" width="1" height="15" fill="#c0c0c0"/><rect x="674" y="752" width="1" height="13" fill="#c0c0c0"/><rect x="678" y="752" width="1" height="12" fill="#c0c0c0"/><rect x="682" y="752" width="1" height="11" fill="#c0c0c0"/><rect x="686" y="752" width="1" height="12" fill="#c0c0c0"/><rect x="690" y="752" width="1" height="10" fill="#c0c0c0"/><rect x="694" y="752" width="1" height="8" fill="#c0c0c0"/><rect x="698" y="752" width="1" height="5" fill="#c0c0c0"/><rect x="702" y="752" width="1" height="4" fill="#c0c0c0"/><rect x="706" y="752" width="1" height="3" fill="#c0c0c0"/><rect x="710" y="752" width="1" height="3" fill="#c0c0c0"/><rect x="714" y="752" width="1" height="3" fill="#c0c0c0"/><rect x="718" y="752" width="1" height="3" fill="#c0c0c0"/><rect x="722" y="752" width="1" height="4" fill="#c0c0c0"/><rect x="726" y="752" width="1" height="4" fill="#c0c0c0"/><rect x="730" y="752" width="1" height="4" fill="#c0c0c0"/><rect x="734" y="752" width="1" height="4" fill="#c0c0c0"/><rect x="738" y="752" width="1" height="5" fill="#c0c0c0"/><rect x="742" y="752" width="1" height="4" fill="#c0c0c0"/><rect x="746" y="752" width="1" height="4" fill="#c0c0c0"/><rect x="750" y="752" width="1" height="3" fill="#c0c0c0"/><rect x="754" y="752" width="1" height="3" fill="#c0c0c0"/><rect x="758" y="752" width="1" height="3" fill="#c0c0c0"/><rect x="762" y="752" width="1" height="3" fill="#c0c0c0"/><rect x="766" y="752" width="1" height="4" fill="#c0c0c0"/><rect x="770" y="752" width="1" height="3" fill="#c0c0c0"/><rect x="774" y="752" width="1" height="3" fill="#c0c0c0"/><rect x="778" y="752" width="1" height="3" fill="#c0c0c0"/><rect x="782" y="752" width="1" height="5" fill="#c0c0c0"/><rect x="786" y="752" width="1" height="7" fill="#c0c0c0"/><rect x="790" y="752" width="1" height="9" fill="#c0c0c0"/><rect x="794" y="752" width="1" height="9" fill="#c0c0c0"/><rect x="798" y="752" width="1" height="9" fill="#c0c0c0"/><rect x="802" y="752" width="1" height="10" fill="#c0c0c0"/><rect x="806" y="752" width="1" height="11" fill="#c0c0c0"/><rect x="810" y="752" width="1" height="11" fill="#c0c0c0"/><rect x="814" y="752" width="1" height="10" fill="#c0c0c0"/><rect x="818" y="752" width="1" height="10" fill="#c0c0c0"/><rect x="822" y="752" width="1" height="10" fill="#c0c0c0"/><rect x="826" y="752" width="1" height="10" fill="#c0c0c0"/><rect x="830" y="752" width="1" height="10" fill="#c0c0c0"/><rect x="834" y="752" width="1" height="11" fill="#c0c0c0"/><rect x="838" y="752" width="1" height="12" fill="#c0c0c0"/><rect x="842" y="752" width="1" height="11" fill="#c0c0c0"/><rect x="846" y="752" width="1" height="10" fill="#c0c0c0"/><rect x="850" y="752" width="1" height="9" fill="#c0c0c0"/><rect x="854" y="752" width="1" height="10" fill="#c0c0c0"/><rect x="858" y="752" width="1" height="11" fill="#c0c0c0"/><rect x="862" y="752" width="1" height="12" fill="#c0c0c0"/><rect x="866" y="752" width="1" height="12" fill="#c0c0c0"/><rect x="870" y="752" width="1" height="12" fill="#c0c0c0"/><rect x="874" y="752" width="1" height="13" fill="#c0c0c0"/><rect x="878" y="752" width="1" height="14" fill="#c0c0c0"/><rect x="882" y="752" width="1" height="14" fill="#c0c0c0"/><rect x="886" y="752" width="1" height="14" fill="#c0c0c0"/><rect x="890" y="752" width="1" height="14" fill="#c0c0c0"/><rect x="894" y="752" width="1" height="13" fill="#c0c0c0"/><rect x="898" y="752" width="1" height="13" fill="#c0c0c0"/><rect x="902" y="752" width="1" height="12" fill="#c0c0c0"/><rect x="906" y="752" width="1" height="12" fill="#c0c0c0"/><rect x="910" y="752" width="1" height="13" fill="#c0c0c0"/><rect x="914" y="752" width="1" height="13" fill="#c0c0c0"/><rect x="918" y="752" width="1" height="14" fill="#c0c0c0"/><rect x="922" y="752" width="1" height="15" fill="#c0c0c0"/><rect x="926" y="752" width="1" height="15" fill="#c0c0c0"/><rect x="930" y="752" width="1" height="15" fill="#c0c0c0"/><rect x="934" y="752" width="1" height="14" fill="#c0c0c0"/><rect x="938" y="752" width="1" height="13" fill="#c0c0c0"/><rect x="942" y="752" width="1" height="13" fill="#c0c0c0"/><rect x="946" y="752" width="1" height="13" fill="#c0c0c0"/><rect x="950" y="752" width="1" height="10" fill="#c0c0c0"/><rect x="954" y="752" width="1" height="9" fill="#c0c0c0"/><rect x="958" y="752" width="1" height="7" fill="#c0c0c0"/><rect x="962" y="752" width="1" height="6" fill="#c0c0c0"/><rect x="966" y="752" width="1" height="5" fill="#c0c0c0"/><rect x="970" y="752" width="1" height="4" fill="#c0c0c0"/><rect x="974" y="752" width="1" height="3" fill="#c0c0c0"/><rect x="978" y="752" width="1" height="2" fill="#c0c0c0"/><rect x="982" y="752" width="1" height="2" fill="#c0c0c0"/><rect x="986" y="752" width="1" height="1" fill="#c0c0c0"/><rect x="990" y="752" width="1" height="1" fill="#c0c0c0"/><rect x="994" y="751" width="1" height="1" fill="#c0c0c0"/><rect x="998" y="749" width="1" height="3" fill="#c0c0c0"/><rect x="1002" y="746" width="1" height="6" fill="#c0c0c0"/><rect x="1006" y="745" width="1" height="7" fill="#c0c0c0"/><rect x="1010" y="743" width="1" height="9" fill="#c0c0c0"/><rect x="1014" y="742" width="1" height="10" fill="#c0c0c0"/><rect x="1018" y="741" width="1" height="11" fill="#c0c0c0"/><rect x="1022" y="740" width="1" height="12" fill="#c0c0c0"/><rect x="1026" y="741" width="1" height="11" fill="#c0c0c0"/><rect x="1030" y="743" width="1" height="9" fill="#c0c0c0"/><rect x="1034" y="743" width="1" height="9" fill="#c0c0c0"/><rect x="1038" y="744" width="1" height="8" fill="#c0c0c0"/><rect x="1042" y="745" width="1" height="7" fill="#c0c0c0"/><rect x="1046" y="746" width="1" height="6" fill="#c0c0c0"/><rect x="1050" y="747" width="1" height="5" fill="#c0c0c0"/><rect x="1054" y="749" width="1" height="3" fill="#c0c0c0"/><rect x="1058" y="751" width="1" height="1" fill="#c0c0c0"/><rect x="1062" y="752" width="1" height="1" fill="#c0c0c0"/><rect x="1066" y="752" width="1" height="3" fill="#c0c0c0"/><rect x="1070" y="752" width="1" height="4" fill="#c0c0c0"/><rect x="1074" y="752" width="1" height="5" fill="#c0c0c0"/><rect x="1078" y="752" width="1" height="4" fill="#c0c0c0"/><rect x="1082" y="752" width="1" height="4" fill="#c0c0c0"/><rect x="1086" y="752" width="1" height="4" fill="#c0c0c0"/><rect x="1090" y="752" width="1" height="4" fill="#c0c0c0"/><rect x="1094" y="752" width="1" height="5" fill="#c0c0c0"/><rect x="1098" y="752" width="1" height="5" fill="#c0c0c0"/><rect x="1102" y="752" width="1" height="5" fill="#c0c0c0"/><rect x="1106" y="752" width="1" height="5" fill="#c0c0c0"/><rect x="1110" y="752" width="1" height="5" fill="#c0c0c0"/><rect x="1114" y="752" width="1" height="4" fill="#c0c0c0"/><rect x="1118" y="752" width="1" height="4" fill="#c0c0c0"/><rect x="1122" y="752" width="1" height="1" fill="#c0c0c0"/><rect x="1126" y="750" width="1" height="2" fill="#c0c0c0"/><rect x="1130" y="749" width="1" height="3" fill="#c0c0c0"/><rect x="1134" y="748" width="1" height="4" fill="#c0c0c0"/><rect x="1138" y="748" width="1" height="4" fill="#c0c0c0"/><rect x="1142" y="750" width="1" height="2" fill="#c0c0c0"/><rect x="1146" y="752" width="1" height="1" fill="#c0c0c0"/><rect x="1150" y="752" width="1" height="3" fill="#c0c0c0"/><rect x="1154" y="752" width="1" height="5" fill="#c0c0c0"/><rect x="1158" y="752" width="1" height="7" fill="#c0c0c0"/><rect x="1162" y="752" width="1" height="9" fill="#c0c0c0"/><rect x="1166" y="752" width="1" height="10" fill="#c0c0c0"/><rect x="1170" y="752" width="1" height="9" fill="#c0c0c0"/><rect x="1174" y="752" width="1" height="8" fill="#c0c0c0"/><rect x="1178" y="752" width="1" height="7" fill="#c0c0c0"/><rect x="1182" y="752" width="1" height="6" fill="#c0c0c0"/><rect x="1186" y="752" width="1" height="6" fill="#c0c0c0"/><rect x="1190" y="752" width="1" height="6" fill="#c0c0c0"/><rect x="1194" y="752" width="1" height="6" fill="#c0c0c0"/><rect x="1198" y="752" width="1" height="5" fill="#c0c0c0"/><rect x="1202" y="752" width="1" height="5" fill="#c0c0c0"/><rect x="1206" y="752" width="1" height="5" fill="#c0c0c0"/><rect x="1210" y="752" width="1" height="4" fill="#c0c0c0"/><rect x="1214" y="752" width="1" height="5" fill="#c0c0c0"/><rect x="1218" y="752" width="1" height="6" fill="#c0c0c0"/><rect x="1222" y="752" width="1" height="6" fill="#c0c0c0"/><rect x="1226" y="752" width="1" height="7" fill="#c0c0c0"/><rect x="1230" y="752" width="1" height="7" fill="#c0c0c0"/><rect x="1234" y="752" width="1" height="8" fill="#c0c0c0"/><rect x="1238" y="752" width="1" height="9" fill="#c0c0c0"/><rect x="1242" y="752" width="1" height="9" fill="#c0c0c0"/><rect x="1246" y="752" width="1" height="10" fill="#c0c0c0"/><rect x="1250" y="752" width="1" height="12" fill="#c0c0c0"/><rect x="1254" y="752" width="1" height="14" fill="#c0c0c0"/><rect x="1258" y="752" width="1" height="15" fill="#c0c0c0"/><rect x="1262" y="752" width="1" height="16" fill="#c0c0c0"/><rect x="1266" y="752" width="1" height="16" fill="#c0c0c0"/><polyline points="2.5,746.2 6.5,746.6 10.5,747.1 14.5,747.6 18.5,748.2 22.5,748.9 26.5,749.7 30.5,750.5 34.5,751.1 38.5,751.8 42.5,752.5 46.5,753.3 50.5,754.0 54.5,754.6 58.5,755.1 62.5,755.5 66.5,755.8 70.5,756.0 74.5,756.3 78.5,756.5 82.5,756.7 86.5,757.2 90.5,757.8 94.5,758.6 98.5,759.4 102.5,760.2 106.5,761.0 110.5,761.7 114.5,762.1 118.5,762.3 122.5,762.2 126.5,761.8 130.5,761.3 134.5,760.6 138.5,759.9 142.5,759.1 146.5,758.4 150.5,757.6 154.5,757.1 158.5,756.5 162.5,756.0 166.5,755.3 170.5,754.6 174.5,753.9 178.5,753.0 182.5,752.1 186.5,751.2 190.5,750.2 194.5,749.1 198.5,748.1 202.5,747.1 206.5,746.1 210.5,745.2 214.5,744.3 218.5,743.5 222.5,742.8 226.5,742.2 230.5,741.7 234.5,741.4 238.5,741.3 242.5,741.4 246.5,741.6 250.5,742.0 254.5,742.6 258.5,743.2 262.5,743.9 266.5,744.7 270.5,745.4 274.5,746.1 278.5,746.6 282.5,747.0 286.5,747.1 290.5,747.0 294.5,746.6 298.5,746.2 302.5,745.6 306.5,745.0 310.5,744.3 314.5,743.6 318.5,743.0 322.5,742.3 326.5,741.3 330.5,740.0 334.5,738.3 338.5,736.0 342.5,733.4 346.5,730.6 350.5,727.3 354.5,723.1 358.5,718.5 362.5,714.2 366.5,710.2 370.5,706.3 374.5,703.0 378.5,700.2 382.5,698.5 386.5,698.0 390.5,699.2 394.5,701.2 398.5,703.8 402.5,706.8 406.5,710.3 410.5,714.2 414.5,717.9 418.5,721.1 422.5,724.1 426.5,726.6 430.5,729.2 434.5,731.8 438.5,734.5 442.5,737.0 446.5,739.6 450.5,741.9 454.5,743.7 458.5,745.2 462.5,746.3 466.5,747.2 470.5,747.5 474.5,747.5 478.5,747.4 482.5,747.0 486.5,746.8 490.5,746.8 494.5,747.0 498.5,747.3 502.5,747.9 506.5,748.5 510.5,749.2 514.5,749.6 518.5,750.1 522.5,750.4 526.5,750.8 530.5,751.3 534.5,751.7 538.5,751.7 542.5,752.0 546.5,752.1 550.5,752.2 554.5,752.2 558.5,752.2 562.5,752.2 566.5,752.3 570.5,752.3 574.5,752.5 578.5,752.6 582.5,752.8 586.5,753.1 590.5,753.8 594.5,754.9 598.5,756.1 602.5,757.1 606.5,758.0 610.5,759.3 614.5,761.1 618.5,763.3 622.5,765.6 626.5,768.0 630.5,770.2 634.5,772.5 638.5,774.6 642.5,776.7 646.5,778.2 650.5,778.9 654.5,778.9 658.5,778.4 662.5,777.5 666.5,776.2 670.5,774.6 674.5,772.8 678.5,770.7 682.5,768.9 686.5,767.4 690.5,766.1 694.5,764.8 698.5,763.4 702.5,762.0 706.5,760.6 710.5,759.5 714.5,758.5 718.5,757.6 722.5,756.7 726.5,756.0 730.5,755.6 734.5,755.5 738.5,755.5 742.5,755.7 746.5,755.8 750.5,755.9 754.5,755.9 758.5,755.8 762.5,755.7 766.5,755.6 770.5,755.5 774.5,755.3 778.5,755.2 782.5,755.4 786.5,755.7 790.5,756.3 794.5,757.1 798.5,757.7 802.5,758.5 806.5,759.3 810.5,760.3 814.5,761.0 818.5,761.6 822.5,762.0 826.5,762.2 830.5,762.2 834.5,762.5 838.5,762.7 842.5,762.7 846.5,762.5 850.5,762.4 854.5,762.4 858.5,762.4 862.5,762.7 866.5,763.0 870.5,763.0 874.5,763.1 878.5,763.4 882.5,763.9 886.5,764.4 890.5,764.8 894.5,765.1 898.5,765.2 902.5,765.2 906.5,765.2 910.5,765.2 914.5,765.2 918.5,765.2 922.5,765.3 926.5,765.5 930.5,765.7 934.5,765.8 938.5,765.9 942.5,766.0 946.5,765.9 950.5,765.5 954.5,765.0 958.5,764.1 962.5,763.1 966.5,761.9 970.5,760.9 974.5,759.7 978.5,758.5 982.5,757.3 986.5,756.3 990.5,755.4 994.5,754.4 998.5,753.4 1002.5,752.2 1006.5,751.0 1010.5,749.7 1014.5,748.3 1018.5,746.9 1022.5,745.5 1026.5,744.2 1030.5,743.3 1034.5,742.7 1038.5,742.5 1042.5,742.6 1046.5,743.0 1050.5,743.6 1054.5,744.4 1058.5,745.6 1062.5,746.9 1066.5,748.3 1070.5,749.8 1074.5,751.2 1078.5,752.4 1082.5,753.4 1086.5,754.4 1090.5,755.2 1094.5,755.9 1098.5,756.3 1102.5,756.5 1106.5,756.7 1110.5,756.7 1114.5,756.7 1118.5,756.7 1122.5,756.4 1126.5,755.8 1130.5,754.8 1134.5,753.7 1138.5,752.6 1142.5,751.8 1146.5,751.2 1150.5,751.1 1154.5,751.2 1158.5,751.8 1162.5,753.0 1166.5,754.4 1170.5,755.9 1174.5,757.3 1178.5,758.3 1182.5,758.9 1186.5,759.3 1190.5,759.4 1194.5,759.3 1198.5,758.9 1202.5,758.4 1206.5,757.9 1210.5,757.5 1214.5,757.3 1218.5,757.4 1222.5,757.4 1226.5,757.6 1230.5,757.8 1234.5,758.1 1238.5,758.4 1242.5,758.9 1246.5,759.5 1250.5,760.3 1254.5,761.3 1258.5,762.2 1262.5,763.2 1266.5,764.1" fill="none" stroke="#ff0000" stroke-width="1" stroke-dasharray="3,3"/></g><rect x="1" y="686" width="1594" height="1" fill="#000"/><rect x="1" y="787" width="1594" height="1" fill="#000"/><rect x="1" y="686" width="1" height="102" fill="#000"/><rect x="1594" y="686" width="1" height="102" fill="#000"/><text x="5.63" y="699" font-size="10.2" fill="#000" textLength="154.07" lengthAdjust="spacingAndGlyphs" stroke="#000" stroke-width="0.15">MACD(12,26,9) -0.008351 -0.006498</text><rect x="1595" y="688" width="2" height="1" fill="#000"/><rect x="1595" y="751" width="2" height="1" fill="#000"/><rect x="1595" y="786" width="2" height="1" fill="#000"/><text x="1597.14" y="697" font-size="10.2" fill="#000" stroke="#000" stroke-width="0.15" textLength="38.74" lengthAdjust="spacingAndGlyphs">0.032972</text><text x="1597.14" y="755" font-size="10.2" fill="#000" stroke="#000" stroke-width="0.15" textLength="18.08" lengthAdjust="spacingAndGlyphs">0.00</text><text x="1597.09" y="785" font-size="10.2" fill="#000" stroke="#000" stroke-width="0.15" textLength="41.83" lengthAdjust="spacingAndGlyphs">-0.018154</text><rect x="2" y="788" width="1" height="3" fill="#000"/><text x="0.53" y="800" font-size="10.2" fill="#000" textLength="47.21" lengthAdjust="spacingAndGlyphs" stroke="#000" stroke-width="0.15">6 Dec 2019</text><rect x="66" y="788" width="1" height="3" fill="#000"/><text x="64.44" y="800" font-size="10.2" fill="#000" textLength="52.4" lengthAdjust="spacingAndGlyphs" stroke="#000" stroke-width="0.15">25 Dec 2019</text><rect x="130" y="788" width="1" height="3" fill="#000"/><text x="129.22" y="800" font-size="10.2" fill="#000" textLength="49.43" lengthAdjust="spacingAndGlyphs" stroke="#000" stroke-width="0.15">13 Jan 2020</text><rect x="194" y="788" width="1" height="3" fill="#000"/><text x="193.46" y="800" font-size="10.2" fill="#000" textLength="49.6" lengthAdjust="spacingAndGlyphs" stroke="#000" stroke-width="0.15">31 Jan 2020</text><rect x="258" y="788" width="1" height="3" fill="#000"/><text x="257.2" y="800" font-size="10.2" fill="#000" textLength="51.76" lengthAdjust="spacingAndGlyphs" stroke="#000" stroke-width="0.15">19 Feb 2020</text><rect x="322" y="788" width="1" height="3" fill="#000"/><text x="320.66" y="800" font-size="10.2" fill="#000" textLength="47.71" lengthAdjust="spacingAndGlyphs" stroke="#000" stroke-width="0.15">9 Mar 2020</text><rect x="386" y="788" width="1" height="3" fill="#000"/><text x="385.04" y="800" font-size="10.2" fill="#000" textLength="51.82" lengthAdjust="spacingAndGlyphs" stroke="#000" stroke-width="0.15">27 Mar 2020</text><rect x="450" y="788" width="1" height="3" fill="#000"/><text x="448.69" y="800" font-size="10.2" fill="#000" textLength="51.08" lengthAdjust="spacingAndGlyphs" stroke="#000" stroke-width="0.15">15 Apr 2020</text><rect x="514" y="788" width="1" height="3" fill="#000"/><text x="513.28" y="800" font-size="10.2" fill="#000" textLength="49.89" lengthAdjust="spacingAndGlyphs" stroke="#000" stroke-width="0.15">4 May 2020</text><rect x="578" y="788" width="1" height="3" fill="#000"/><text x="577.02" y="800" font-size="10.2" fill="#000" textLength="54.64" lengthAdjust="spacingAndGlyphs" stroke="#000" stroke-width="0.15">22 May 2020</text><rect x="642" y="788" width="1" height="3" fill="#000"/><text x="640.4" y="800" font-size="10.2" fill="#000" textLength="50.35" lengthAdjust="spacingAndGlyphs" stroke="#000" stroke-width="0.15">10 Jun 2020</text><rect x="706" y="788" width="1" height="3" fill="#000"/><text x="705.04" y="800" font-size="10.2" fill="#000" textLength="49.81" lengthAdjust="spacingAndGlyphs" stroke="#000" stroke-width="0.15">29 Jun 2020</text><rect x="770" y="788" width="1" height="3" fill="#000"/><text x="768.7" y="800" font-size="10.2" fill="#000" textLength="47.36" lengthAdjust="spacingAndGlyphs" stroke="#000" stroke-width="0.15">17 Jul 2020</text><rect x="834" y="788" width="1" height="3" fill="#000"/><text x="832.62" y="800" font-size="10.2" fill="#000" textLength="48.55" lengthAdjust="spacingAndGlyphs" stroke="#000" stroke-width="0.15">5 Aug 2020</text><rect x="898" y="788" width="1" height="3" fill="#000"/><text x="897.03" y="800" font-size="10.2" fill="#000" textLength="53.24" lengthAdjust="spacingAndGlyphs" stroke="#000" stroke-width="0.15">24 Aug 2020</text><rect x="962" y="788" width="1" height="3" fill="#000"/><text x="960.39" y="800" font-size="10.2" fill="#000" textLength="52.87" lengthAdjust="spacingAndGlyphs" stroke="#000" stroke-width="0.15">11 Sep 2020</text><rect x="1026" y="788" width="1" height="3" fill="#000"/><text x="1025.15" y="800" font-size="10.2" fill="#000" textLength="52.11" lengthAdjust="spacingAndGlyphs" stroke="#000" stroke-width="0.15">30 Sep 2020</text><rect x="1090" y="788" width="1" height="3" fill="#000"/><text x="1088.68" y="800" font-size="10.2" fill="#000" textLength="51.49" lengthAdjust="spacingAndGlyphs" stroke="#000" stroke-width="0.15">19 Oct 2020</text><rect x="1154" y="788" width="1" height="3" fill="#000"/><text x="1152.61" y="800" font-size="10.2" fill="#000" textLength="49.57" lengthAdjust="spacingAndGlyphs" stroke="#000" stroke-width="0.15">6 Nov 2020</text><rect x="1218" y="788" width="1" height="3" fill="#000"/><text x="1217.02" y="800" font-size="10.2" fill="#000" textLength="54.05" lengthAdjust="spacingAndGlyphs" stroke="#000" stroke-width="0.15">25 Nov 2020</text><rect x="0" y="808" width="1638" height="1" fill="#e3e3e3"/><rect x="0" y="809" width="1638" height="1" fill="#ffffff"/><rect x="0" y="810" width="1638" height="22" fill="#f0f0f0"/><rect x="0" y="810" width="1638" height="1" fill="#000"/><rect x="0" y="811" width="1638" height="1" fill="#ffffff"/><rect x="311" y="810" width="104" height="19" fill="#000"/><rect x="312" y="810" width="102" height="18" fill="#ffffff"/><text x="14.62" y="825" font-size="13" fill="#6d6d6d" textLength="80.1" lengthAdjust="spacingAndGlyphs" stroke="#6d6d6d" stroke-width="0.15">EURUSD,Daily</text><text x="116.29" y="825" font-size="13" fill="#6d6d6d" textLength="79.04" lengthAdjust="spacingAndGlyphs" stroke="#6d6d6d" stroke-width="0.15">USDCHF,Daily</text><text x="218.38" y="825" font-size="13" fill="#6d6d6d" textLength="81.45" lengthAdjust="spacingAndGlyphs" stroke="#6d6d6d" stroke-width="0.15">AUDUSD,Daily</text><text x="424.25" y="825" font-size="13" fill="#6d6d6d" textLength="83.47" lengthAdjust="spacingAndGlyphs" stroke="#6d6d6d" stroke-width="0.15">USDCNH,Daily</text><text x="530.72" y="825" font-size="13" fill="#6d6d6d" textLength="80.1" lengthAdjust="spacingAndGlyphs" stroke="#6d6d6d" stroke-width="0.15">EURUSD,Daily</text><text x="635.01" y="825" font-size="13" fill="#6d6d6d" textLength="68.34" lengthAdjust="spacingAndGlyphs" stroke="#6d6d6d" stroke-width="0.15">GBPUSD,H4</text><text x="726.13" y="825" font-size="13" fill="#6d6d6d" textLength="80.39" lengthAdjust="spacingAndGlyphs" stroke="#6d6d6d" stroke-width="0.15">XAUUSD,Daily</text><text x="829.89" y="825" font-size="13" fill="#6d6d6d" textLength="50.12" lengthAdjust="spacingAndGlyphs" stroke="#6d6d6d" stroke-width="0.15">HK50,H1</text><text x="901.13" y="825" font-size="13" fill="#6d6d6d" textLength="57.88" lengthAdjust="spacingAndGlyphs" stroke="#6d6d6d" stroke-width="0.15">UK100,H1</text><text x="981.23" y="825" font-size="13" fill="#6d6d6d" textLength="57.78" lengthAdjust="spacingAndGlyphs" stroke="#6d6d6d" stroke-width="0.15">UK100,H1</text><text x="1061.71" y="825" font-size="13" fill="#6d6d6d" textLength="56.97" lengthAdjust="spacingAndGlyphs" stroke="#6d6d6d" stroke-width="0.15">GER30,H1</text><text x="1140.64" y="825" font-size="13" fill="#6d6d6d" textLength="54.63" lengthAdjust="spacingAndGlyphs" stroke="#6d6d6d" stroke-width="0.15">FRA40,H1</text><text x="1216.64" y="825" font-size="13" fill="#6d6d6d" textLength="63.38" lengthAdjust="spacingAndGlyphs" stroke="#6d6d6d" stroke-width="0.15">USOil,Daily</text><text x="1300.72" y="825" font-size="13" fill="#6d6d6d" textLength="62.84" lengthAdjust="spacingAndGlyphs" stroke="#6d6d6d" stroke-width="0.15">USDJPY,H1</text><text x="1384.49" y="825" font-size="13" fill="#6d6d6d" textLength="59.33" lengthAdjust="spacingAndGlyphs" stroke="#6d6d6d" stroke-width="0.15">DJ30,Daily</text><text x="1464.86" y="825" font-size="13" fill="#6d6d6d" textLength="79.35" lengthAdjust="spacingAndGlyphs" stroke="#6d6d6d" stroke-width="0.15">CHINA300,H1</text><text x="321.77" y="825" font-size="13" fill="#000" textLength="81.05" lengthAdjust="spacingAndGlyphs" stroke="#000" stroke-width="0.15">USDCAD,Daily</text><rect x="107" y="813" width="1" height="14" fill="#555555"/><rect x="207" y="813" width="1" height="14" fill="#555555"/><rect x="519" y="813" width="1" height="14" fill="#555555"/><rect x="623" y="813" width="1" height="14" fill="#555555"/><rect x="715" y="813" width="1" height="14" fill="#555555"/><rect x="819" y="813" width="1" height="14" fill="#555555"/><rect x="891" y="813" width="1" height="14" fill="#555555"/><rect x="971" y="813" width="1" height="14" fill="#555555"/><rect x="1051" y="813" width="1" height="14" fill="#555555"/><rect x="1131" y="813" width="1" height="14" fill="#555555"/><rect x="1207" y="813" width="1" height="14" fill="#555555"/><rect x="1291" y="813" width="1" height="14" fill="#555555"/><rect x="1375" y="813" width="1" height="14" fill="#555555"/><rect x="1455" y="813" width="1" height="14" fill="#555555"/><rect x="1555" y="813" width="1" height="14" fill="#555555"/><svg x="1565" y="810" width="39" height="22"><text x="-0.56" y="15" font-size="13" fill="#6d6d6d" textLength="51.67" lengthAdjust="spacingAndGlyphs">USOil,H1</text></svg><path d="M1613.5 816 L1613.5 822 L1610 819 Z" fill="#a0a0a0"/><path d="M1629 816 L1629 822 L1632.5 819 Z" fill="#000"/></svg></body></html>
